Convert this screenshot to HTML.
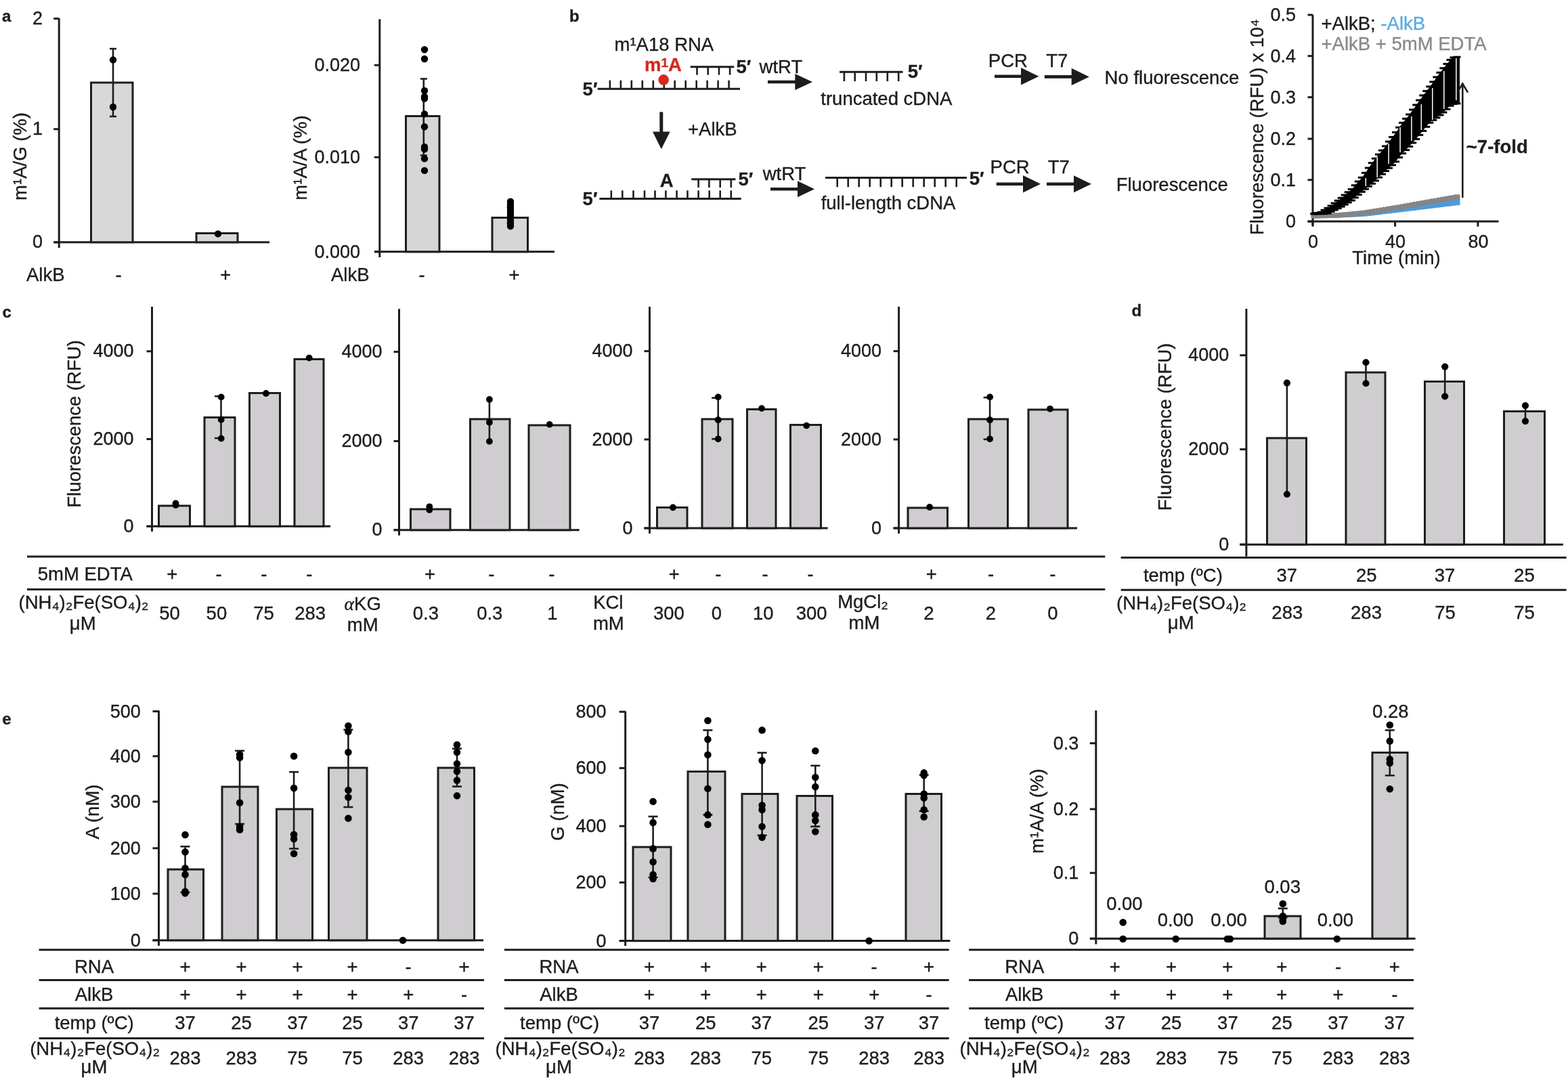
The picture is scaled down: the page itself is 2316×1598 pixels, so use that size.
<!DOCTYPE html>
<html><head><meta charset="utf-8"><title>Figure</title>
<style>
html,body{margin:0;padding:0;background:#fff;}
body{width:2316px;height:1598px;overflow:hidden;}
svg{display:block;}
</style></head>
<body>
<svg width="2316" height="1598" viewBox="0 0 2316 1598">
<rect width="2316" height="1598" fill="#fff"/>
<g font-family="'Liberation Sans', Arial, sans-serif" font-size="27.5" fill="#1d1d1d">
<text x="3" y="32" font-size="24" font-weight="bold" stroke="#1d1d1d" stroke-width="0.35">a</text>
<line x1="87.2" y1="27" x2="87.2" y2="366" stroke="#1d1d1d" stroke-width="3" stroke-linecap="butt"/>
<line x1="79.2" y1="27.5" x2="87.2" y2="27.5" stroke="#1d1d1d" stroke-width="3" stroke-linecap="butt"/>
<text x="63" y="35.5" text-anchor="end" font-size="27" stroke="#1d1d1d" stroke-width="0.35">2</text>
<line x1="79.2" y1="190.7" x2="87.2" y2="190.7" stroke="#1d1d1d" stroke-width="3" stroke-linecap="butt"/>
<text x="63" y="198.7" text-anchor="end" font-size="27" stroke="#1d1d1d" stroke-width="0.35">1</text>
<line x1="79.2" y1="357.8" x2="87.2" y2="357.8" stroke="#1d1d1d" stroke-width="3" stroke-linecap="butt"/>
<text x="63" y="365.8" text-anchor="end" font-size="27" stroke="#1d1d1d" stroke-width="0.35">0</text>
<line x1="79.5" y1="357.8" x2="398" y2="357.8" stroke="#1d1d1d" stroke-width="3" stroke-linecap="butt"/>
<rect x="134.5" y="122" width="61.5" height="235.8" fill="#d8d8d8" stroke="#1d1d1d" stroke-width="3"/>
<rect x="290" y="344.5" width="61" height="13.3" fill="#d8d8d8" stroke="#1d1d1d" stroke-width="3"/>
<line x1="167" y1="72" x2="167" y2="172" stroke="#1d1d1d" stroke-width="2.6" stroke-linecap="butt"/>
<line x1="162" y1="72" x2="172" y2="72" stroke="#1d1d1d" stroke-width="2.6" stroke-linecap="butt"/>
<line x1="162" y1="172" x2="172" y2="172" stroke="#1d1d1d" stroke-width="2.6" stroke-linecap="butt"/>
<circle cx="167" cy="88.4" r="5.2" fill="#000"/>
<circle cx="167" cy="158" r="5.2" fill="#000"/>
<circle cx="322" cy="345.4" r="5.2" fill="#000"/>
<text x="39" y="231" text-anchor="middle" stroke="#1d1d1d" stroke-width="0.35" transform="rotate(-90 39 231)">m¹A/G (%)</text>
<text x="39" y="415" stroke="#1d1d1d" stroke-width="0.35">AlkB</text>
<text x="175" y="415" text-anchor="middle" stroke="#1d1d1d" stroke-width="0.35">-</text>
<text x="333" y="415" text-anchor="middle" stroke="#1d1d1d" stroke-width="0.35">+</text>
<line x1="560.8" y1="28.3" x2="560.8" y2="380" stroke="#1d1d1d" stroke-width="3" stroke-linecap="butt"/>
<line x1="552.8" y1="96.2" x2="560.8" y2="96.2" stroke="#1d1d1d" stroke-width="3" stroke-linecap="butt"/>
<text x="532" y="105.2" text-anchor="end" font-size="27" stroke="#1d1d1d" stroke-width="0.35">0.020</text>
<line x1="552.8" y1="232.2" x2="560.8" y2="232.2" stroke="#1d1d1d" stroke-width="3" stroke-linecap="butt"/>
<text x="532" y="241.2" text-anchor="end" font-size="27" stroke="#1d1d1d" stroke-width="0.35">0.010</text>
<line x1="552.8" y1="371.8" x2="560.8" y2="371.8" stroke="#1d1d1d" stroke-width="3" stroke-linecap="butt"/>
<text x="532" y="380.8" text-anchor="end" font-size="27" stroke="#1d1d1d" stroke-width="0.35">0.000</text>
<line x1="553" y1="371.8" x2="819" y2="371.8" stroke="#1d1d1d" stroke-width="3" stroke-linecap="butt"/>
<rect x="599.5" y="171.5" width="49.5" height="200.3" fill="#d6d6d6" stroke="#1d1d1d" stroke-width="3"/>
<rect x="727" y="321.5" width="52.5" height="50.3" fill="#d6d6d6" stroke="#1d1d1d" stroke-width="3"/>
<line x1="625.8" y1="116.4" x2="625.8" y2="229.5" stroke="#1d1d1d" stroke-width="2.6" stroke-linecap="butt"/>
<line x1="620.8" y1="116.4" x2="630.8" y2="116.4" stroke="#1d1d1d" stroke-width="2.6" stroke-linecap="butt"/>
<line x1="620.8" y1="229.5" x2="630.8" y2="229.5" stroke="#1d1d1d" stroke-width="2.6" stroke-linecap="butt"/>
<circle cx="627" cy="73.3" r="5.2" fill="#000"/>
<circle cx="627" cy="87" r="5.2" fill="#000"/>
<circle cx="627" cy="133.9" r="5.2" fill="#000"/>
<circle cx="627" cy="142.8" r="5.2" fill="#000"/>
<circle cx="627" cy="145.5" r="5.2" fill="#000"/>
<circle cx="627" cy="168.4" r="5.2" fill="#000"/>
<circle cx="627" cy="187.2" r="5.2" fill="#000"/>
<circle cx="627" cy="216.9" r="5.2" fill="#000"/>
<circle cx="627" cy="220.4" r="5.2" fill="#000"/>
<circle cx="627" cy="234.4" r="5.2" fill="#000"/>
<circle cx="627" cy="251.9" r="5.2" fill="#000"/>
<line x1="753.7" y1="307" x2="753.7" y2="330" stroke="#1d1d1d" stroke-width="2.6" stroke-linecap="butt"/>
<line x1="748.7" y1="307" x2="758.7" y2="307" stroke="#1d1d1d" stroke-width="2.6" stroke-linecap="butt"/>
<line x1="748.7" y1="330" x2="758.7" y2="330" stroke="#1d1d1d" stroke-width="2.6" stroke-linecap="butt"/>
<circle cx="754" cy="297.7" r="5.2" fill="#000"/>
<circle cx="754" cy="302" r="5.2" fill="#000"/>
<circle cx="754" cy="306" r="5.2" fill="#000"/>
<circle cx="754" cy="310" r="5.2" fill="#000"/>
<circle cx="754" cy="314" r="5.2" fill="#000"/>
<circle cx="754" cy="318" r="5.2" fill="#000"/>
<circle cx="754" cy="322" r="5.2" fill="#000"/>
<circle cx="754" cy="326" r="5.2" fill="#000"/>
<circle cx="754" cy="330" r="5.2" fill="#000"/>
<circle cx="754" cy="334" r="5.2" fill="#000"/>
<text x="453" y="233" text-anchor="middle" stroke="#1d1d1d" stroke-width="0.35" transform="rotate(-90 453 233)">m¹A/A (%)</text>
<text x="489" y="415" stroke="#1d1d1d" stroke-width="0.35">AlkB</text>
<text x="623" y="415" text-anchor="middle" stroke="#1d1d1d" stroke-width="0.35">-</text>
<text x="759.6" y="415" text-anchor="middle" stroke="#1d1d1d" stroke-width="0.35">+</text>
<text x="841" y="32" font-size="24" font-weight="bold" stroke="#1d1d1d" stroke-width="0.35">b</text>
<text x="907.5" y="74.6" stroke="#1d1d1d" stroke-width="0.35">m¹A18 RNA</text>
<text x="952" y="105.2" font-weight="bold" fill="#d42a20" stroke="#d42a20" stroke-width="0.35">m<tspan font-size="19" dy="-6">1</tspan><tspan dy="6">A</tspan></text>
<line x1="1019.8" y1="98.8" x2="1084.3" y2="98.8" stroke="#1d1d1d" stroke-width="3" stroke-linecap="butt"/>
<line x1="1029.5" y1="98.8" x2="1029.5" y2="110.6" stroke="#1d1d1d" stroke-width="2.6" stroke-linecap="butt"/>
<line x1="1045.7" y1="98.8" x2="1045.7" y2="110.6" stroke="#1d1d1d" stroke-width="2.6" stroke-linecap="butt"/>
<line x1="1062" y1="98.8" x2="1062" y2="110.6" stroke="#1d1d1d" stroke-width="2.6" stroke-linecap="butt"/>
<line x1="1078.1" y1="98.8" x2="1078.1" y2="110.6" stroke="#1d1d1d" stroke-width="2.6" stroke-linecap="butt"/>
<line x1="882.7" y1="131.2" x2="1093" y2="131.2" stroke="#1d1d1d" stroke-width="3" stroke-linecap="butt"/>
<line x1="900.9" y1="131.2" x2="900.9" y2="118.7" stroke="#1d1d1d" stroke-width="2.6" stroke-linecap="butt"/>
<line x1="916.9" y1="131.2" x2="916.9" y2="118.7" stroke="#1d1d1d" stroke-width="2.6" stroke-linecap="butt"/>
<line x1="932.8" y1="131.2" x2="932.8" y2="118.7" stroke="#1d1d1d" stroke-width="2.6" stroke-linecap="butt"/>
<line x1="948.8" y1="131.2" x2="948.8" y2="118.7" stroke="#1d1d1d" stroke-width="2.6" stroke-linecap="butt"/>
<line x1="964.8" y1="131.2" x2="964.8" y2="118.7" stroke="#1d1d1d" stroke-width="2.6" stroke-linecap="butt"/>
<line x1="980.8" y1="131.2" x2="980.8" y2="118.7" stroke="#1d1d1d" stroke-width="2.6" stroke-linecap="butt"/>
<line x1="996.7" y1="131.2" x2="996.7" y2="118.7" stroke="#1d1d1d" stroke-width="2.6" stroke-linecap="butt"/>
<line x1="1012.7" y1="131.2" x2="1012.7" y2="118.7" stroke="#1d1d1d" stroke-width="2.6" stroke-linecap="butt"/>
<line x1="1028.7" y1="131.2" x2="1028.7" y2="118.7" stroke="#1d1d1d" stroke-width="2.6" stroke-linecap="butt"/>
<line x1="1044.6" y1="131.2" x2="1044.6" y2="118.7" stroke="#1d1d1d" stroke-width="2.6" stroke-linecap="butt"/>
<line x1="1060.6" y1="131.2" x2="1060.6" y2="118.7" stroke="#1d1d1d" stroke-width="2.6" stroke-linecap="butt"/>
<line x1="1076.6" y1="131.2" x2="1076.6" y2="118.7" stroke="#1d1d1d" stroke-width="2.6" stroke-linecap="butt"/>
<circle cx="980.2" cy="117.9" r="7.8" fill="#d42a20"/>
<text x="1087.4" y="107.5" font-weight="bold" stroke="#1d1d1d" stroke-width="0.35">5′</text>
<text x="860.6" y="140.6" font-weight="bold" stroke="#1d1d1d" stroke-width="0.35">5′</text>
<text x="1121.6" y="107.5" stroke="#1d1d1d" stroke-width="0.35">wtRT</text>
<line x1="1134" y1="121" x2="1176.3" y2="121" stroke="#1d1d1d" stroke-width="4.6" stroke-linecap="butt"/>
<polygon points="1174.3,109 1200,121 1174.3,133" fill="#1d1d1d"/>
<line x1="976.8" y1="165.4" x2="976.8" y2="196" stroke="#1d1d1d" stroke-width="5" stroke-linecap="butt"/>
<polygon points="964,194.4 989.6,194.4 976.8,220.2" fill="#1d1d1d"/>
<text x="1016" y="199.5" stroke="#1d1d1d" stroke-width="0.35">+AlkB</text>
<text x="974.7" y="276" font-weight="bold" stroke="#1d1d1d" stroke-width="0.35">A</text>
<line x1="1021.3" y1="264.7" x2="1086.4" y2="264.7" stroke="#1d1d1d" stroke-width="3" stroke-linecap="butt"/>
<line x1="1031.6" y1="264.7" x2="1031.6" y2="277" stroke="#1d1d1d" stroke-width="2.6" stroke-linecap="butt"/>
<line x1="1047.4" y1="264.7" x2="1047.4" y2="277" stroke="#1d1d1d" stroke-width="2.6" stroke-linecap="butt"/>
<line x1="1063.7" y1="264.7" x2="1063.7" y2="277" stroke="#1d1d1d" stroke-width="2.6" stroke-linecap="butt"/>
<line x1="1079.8" y1="264.7" x2="1079.8" y2="277" stroke="#1d1d1d" stroke-width="2.6" stroke-linecap="butt"/>
<line x1="885.4" y1="293.6" x2="1094.7" y2="293.6" stroke="#1d1d1d" stroke-width="3" stroke-linecap="butt"/>
<line x1="902.8" y1="293.6" x2="902.8" y2="281.3" stroke="#1d1d1d" stroke-width="2.6" stroke-linecap="butt"/>
<line x1="919.3" y1="293.6" x2="919.3" y2="281.3" stroke="#1d1d1d" stroke-width="2.6" stroke-linecap="butt"/>
<line x1="935.5" y1="293.6" x2="935.5" y2="281.3" stroke="#1d1d1d" stroke-width="2.6" stroke-linecap="butt"/>
<line x1="952" y1="293.6" x2="952" y2="281.3" stroke="#1d1d1d" stroke-width="2.6" stroke-linecap="butt"/>
<line x1="967.5" y1="293.6" x2="967.5" y2="281.3" stroke="#1d1d1d" stroke-width="2.6" stroke-linecap="butt"/>
<line x1="983.4" y1="293.6" x2="983.4" y2="281.3" stroke="#1d1d1d" stroke-width="2.6" stroke-linecap="butt"/>
<line x1="999.6" y1="293.6" x2="999.6" y2="281.3" stroke="#1d1d1d" stroke-width="2.6" stroke-linecap="butt"/>
<line x1="1015.5" y1="293.6" x2="1015.5" y2="281.3" stroke="#1d1d1d" stroke-width="2.6" stroke-linecap="butt"/>
<line x1="1031.6" y1="293.6" x2="1031.6" y2="281.3" stroke="#1d1d1d" stroke-width="2.6" stroke-linecap="butt"/>
<line x1="1047.7" y1="293.6" x2="1047.7" y2="281.3" stroke="#1d1d1d" stroke-width="2.6" stroke-linecap="butt"/>
<line x1="1063.7" y1="293.6" x2="1063.7" y2="281.3" stroke="#1d1d1d" stroke-width="2.6" stroke-linecap="butt"/>
<line x1="1079.8" y1="293.6" x2="1079.8" y2="281.3" stroke="#1d1d1d" stroke-width="2.6" stroke-linecap="butt"/>
<text x="1090.5" y="274" font-weight="bold" stroke="#1d1d1d" stroke-width="0.35">5′</text>
<text x="860.6" y="303" font-weight="bold" stroke="#1d1d1d" stroke-width="0.35">5′</text>
<text x="1126.7" y="265.7" stroke="#1d1d1d" stroke-width="0.35">wtRT</text>
<line x1="1138" y1="279.2" x2="1180" y2="279.2" stroke="#1d1d1d" stroke-width="4.6" stroke-linecap="butt"/>
<polygon points="1178,267.2 1203,279.2 1178,291.2" fill="#1d1d1d"/>
<line x1="1240" y1="106.3" x2="1333.6" y2="106.3" stroke="#1d1d1d" stroke-width="3" stroke-linecap="butt"/>
<line x1="1246.9" y1="106.3" x2="1246.9" y2="120" stroke="#1d1d1d" stroke-width="2.6" stroke-linecap="butt"/>
<line x1="1262.7" y1="106.3" x2="1262.7" y2="120" stroke="#1d1d1d" stroke-width="2.6" stroke-linecap="butt"/>
<line x1="1279" y1="106.3" x2="1279" y2="120" stroke="#1d1d1d" stroke-width="2.6" stroke-linecap="butt"/>
<line x1="1294.8" y1="106.3" x2="1294.8" y2="120" stroke="#1d1d1d" stroke-width="2.6" stroke-linecap="butt"/>
<line x1="1310.8" y1="106.3" x2="1310.8" y2="120" stroke="#1d1d1d" stroke-width="2.6" stroke-linecap="butt"/>
<line x1="1327.2" y1="106.3" x2="1327.2" y2="120" stroke="#1d1d1d" stroke-width="2.6" stroke-linecap="butt"/>
<text x="1340.8" y="114.9" font-weight="bold" stroke="#1d1d1d" stroke-width="0.35">5′</text>
<text x="1212.3" y="154.5" stroke="#1d1d1d" stroke-width="0.35">truncated cDNA</text>
<line x1="1219" y1="262.6" x2="1428" y2="262.6" stroke="#1d1d1d" stroke-width="3" stroke-linecap="butt"/>
<line x1="1236.7" y1="262.6" x2="1236.7" y2="276.2" stroke="#1d1d1d" stroke-width="2.6" stroke-linecap="butt"/>
<line x1="1252.7" y1="262.6" x2="1252.7" y2="276.2" stroke="#1d1d1d" stroke-width="2.6" stroke-linecap="butt"/>
<line x1="1268.7" y1="262.6" x2="1268.7" y2="276.2" stroke="#1d1d1d" stroke-width="2.6" stroke-linecap="butt"/>
<line x1="1284.7" y1="262.6" x2="1284.7" y2="276.2" stroke="#1d1d1d" stroke-width="2.6" stroke-linecap="butt"/>
<line x1="1300.7" y1="262.6" x2="1300.7" y2="276.2" stroke="#1d1d1d" stroke-width="2.6" stroke-linecap="butt"/>
<line x1="1316.7" y1="262.6" x2="1316.7" y2="276.2" stroke="#1d1d1d" stroke-width="2.6" stroke-linecap="butt"/>
<line x1="1332.7" y1="262.6" x2="1332.7" y2="276.2" stroke="#1d1d1d" stroke-width="2.6" stroke-linecap="butt"/>
<line x1="1348.7" y1="262.6" x2="1348.7" y2="276.2" stroke="#1d1d1d" stroke-width="2.6" stroke-linecap="butt"/>
<line x1="1364.7" y1="262.6" x2="1364.7" y2="276.2" stroke="#1d1d1d" stroke-width="2.6" stroke-linecap="butt"/>
<line x1="1380.7" y1="262.6" x2="1380.7" y2="276.2" stroke="#1d1d1d" stroke-width="2.6" stroke-linecap="butt"/>
<line x1="1396.7" y1="262.6" x2="1396.7" y2="276.2" stroke="#1d1d1d" stroke-width="2.6" stroke-linecap="butt"/>
<line x1="1412.7" y1="262.6" x2="1412.7" y2="276.2" stroke="#1d1d1d" stroke-width="2.6" stroke-linecap="butt"/>
<text x="1431.7" y="272.6" font-weight="bold" stroke="#1d1d1d" stroke-width="0.35">5′</text>
<text x="1212.7" y="309" stroke="#1d1d1d" stroke-width="0.35">full-length cDNA</text>
<text x="1459.8" y="99" stroke="#1d1d1d" stroke-width="0.35">PCR</text>
<line x1="1469" y1="112.7" x2="1510" y2="112.7" stroke="#1d1d1d" stroke-width="4.6" stroke-linecap="butt"/>
<polygon points="1508,100 1534.4,112.7 1508,125.4" fill="#1d1d1d"/>
<text x="1462.6" y="256.2" stroke="#1d1d1d" stroke-width="0.35">PCR</text>
<line x1="1471.7" y1="271.7" x2="1513" y2="271.7" stroke="#1d1d1d" stroke-width="4.6" stroke-linecap="butt"/>
<polygon points="1511,259 1537,271.7 1511,284.4" fill="#1d1d1d"/>
<text x="1545.3" y="99.1" stroke="#1d1d1d" stroke-width="0.35">T7</text>
<line x1="1542.8" y1="113.4" x2="1584.7" y2="113.4" stroke="#1d1d1d" stroke-width="4.6" stroke-linecap="butt"/>
<polygon points="1582.7,100.7 1608.8,113.4 1582.7,126.1" fill="#1d1d1d"/>
<text x="1547.7" y="256.3" stroke="#1d1d1d" stroke-width="0.35">T7</text>
<line x1="1546" y1="271.8" x2="1588" y2="271.8" stroke="#1d1d1d" stroke-width="4.6" stroke-linecap="butt"/>
<polygon points="1586,259.3 1612,271.8 1586,284.3" fill="#1d1d1d"/>
<text x="1631.6" y="124.4" stroke="#1d1d1d" stroke-width="0.35">No fluorescence</text>
<text x="1648.7" y="282.4" stroke="#1d1d1d" stroke-width="0.35">Fluorescence</text>
<line x1="1939" y1="22" x2="1939" y2="333" stroke="#1d1d1d" stroke-width="3" stroke-linecap="butt"/>
<line x1="1931.5" y1="22" x2="1939" y2="22" stroke="#1d1d1d" stroke-width="3" stroke-linecap="butt"/>
<text x="1914" y="31" text-anchor="end" font-size="27" stroke="#1d1d1d" stroke-width="0.35">0.5</text>
<line x1="1931.5" y1="82.7" x2="1939" y2="82.7" stroke="#1d1d1d" stroke-width="3" stroke-linecap="butt"/>
<text x="1914" y="91.7" text-anchor="end" font-size="27" stroke="#1d1d1d" stroke-width="0.35">0.4</text>
<line x1="1931.5" y1="143.6" x2="1939" y2="143.6" stroke="#1d1d1d" stroke-width="3" stroke-linecap="butt"/>
<text x="1914" y="152.6" text-anchor="end" font-size="27" stroke="#1d1d1d" stroke-width="0.35">0.3</text>
<line x1="1931.5" y1="205" x2="1939" y2="205" stroke="#1d1d1d" stroke-width="3" stroke-linecap="butt"/>
<text x="1914" y="214" text-anchor="end" font-size="27" stroke="#1d1d1d" stroke-width="0.35">0.2</text>
<line x1="1931.5" y1="265.7" x2="1939" y2="265.7" stroke="#1d1d1d" stroke-width="3" stroke-linecap="butt"/>
<text x="1914" y="274.7" text-anchor="end" font-size="27" stroke="#1d1d1d" stroke-width="0.35">0.1</text>
<line x1="1931.5" y1="327" x2="1939" y2="327" stroke="#1d1d1d" stroke-width="3" stroke-linecap="butt"/>
<text x="1914" y="336" text-anchor="end" font-size="27" stroke="#1d1d1d" stroke-width="0.35">0</text>
<line x1="1931.5" y1="327" x2="2213.5" y2="327" stroke="#1d1d1d" stroke-width="3" stroke-linecap="butt"/>
<line x1="1939" y1="327" x2="1939" y2="334.6" stroke="#1d1d1d" stroke-width="3" stroke-linecap="butt"/>
<text x="1939.5" y="366" text-anchor="middle" font-size="27" stroke="#1d1d1d" stroke-width="0.35">0</text>
<line x1="2060.6" y1="327" x2="2060.6" y2="334.6" stroke="#1d1d1d" stroke-width="3" stroke-linecap="butt"/>
<text x="2061.1" y="366" text-anchor="middle" font-size="27" stroke="#1d1d1d" stroke-width="0.35">40</text>
<line x1="2182.9" y1="327" x2="2182.9" y2="334.6" stroke="#1d1d1d" stroke-width="3" stroke-linecap="butt"/>
<text x="2183.4" y="366" text-anchor="middle" font-size="27" stroke="#1d1d1d" stroke-width="0.35">80</text>
<text x="2062.5" y="389.7" text-anchor="middle" stroke="#1d1d1d" stroke-width="0.35">Time (min)</text>
<text x="1866.3" y="187.6" text-anchor="middle" stroke="#1d1d1d" stroke-width="0.35" transform="rotate(-90 1866.3 187.6)">Fluorescence (RFU) x 10⁴</text>
<rect x="1961.6" y="317.3" width="9" height="4.4" fill="#4f9ad8"/>
<rect x="1966.6" y="317.1" width="9" height="4.4" fill="#4f9ad8"/>
<rect x="1971.7" y="316.9" width="9" height="4.5" fill="#4f9ad8"/>
<rect x="1976.7" y="316.6" width="9" height="4.6" fill="#4f9ad8"/>
<rect x="1981.7" y="316.3" width="9" height="4.7" fill="#4f9ad8"/>
<rect x="1986.7" y="316" width="9" height="4.8" fill="#4f9ad8"/>
<rect x="1991.8" y="315.7" width="9" height="4.9" fill="#4f9ad8"/>
<rect x="1996.8" y="315.3" width="9" height="5" fill="#4f9ad8"/>
<rect x="2001.8" y="315" width="9" height="5.1" fill="#4f9ad8"/>
<rect x="2006.8" y="314.7" width="9" height="5.1" fill="#4f9ad8"/>
<rect x="2011.9" y="314.2" width="9" height="5.2" fill="#4f9ad8"/>
<rect x="2016.9" y="313.5" width="9" height="5.4" fill="#4f9ad8"/>
<rect x="2021.9" y="312.8" width="9" height="5.5" fill="#4f9ad8"/>
<rect x="2026.9" y="312" width="9" height="5.6" fill="#4f9ad8"/>
<rect x="2032" y="311.3" width="9" height="5.8" fill="#4f9ad8"/>
<rect x="2037" y="310.5" width="9" height="5.9" fill="#4f9ad8"/>
<rect x="2042" y="309.8" width="9" height="6" fill="#4f9ad8"/>
<rect x="2047" y="309.1" width="9" height="6.2" fill="#4f9ad8"/>
<rect x="2052" y="308.3" width="9" height="6.3" fill="#4f9ad8"/>
<rect x="2057.1" y="307.6" width="9" height="6.4" fill="#4f9ad8"/>
<rect x="2062.1" y="306.8" width="9" height="6.6" fill="#4f9ad8"/>
<rect x="2067.1" y="305.9" width="9" height="6.9" fill="#4f9ad8"/>
<rect x="2072.1" y="305" width="9" height="7.2" fill="#4f9ad8"/>
<rect x="2077.2" y="304.1" width="9" height="7.4" fill="#4f9ad8"/>
<rect x="2082.2" y="303.3" width="9" height="7.7" fill="#4f9ad8"/>
<rect x="2087.2" y="302.4" width="9" height="8" fill="#4f9ad8"/>
<rect x="2092.2" y="301.5" width="9" height="8.2" fill="#4f9ad8"/>
<rect x="2097.3" y="300.6" width="9" height="8.5" fill="#4f9ad8"/>
<rect x="2102.3" y="299.7" width="9" height="8.8" fill="#4f9ad8"/>
<rect x="2107.3" y="298.8" width="9" height="9.1" fill="#4f9ad8"/>
<rect x="2112.3" y="298" width="9" height="9.3" fill="#4f9ad8"/>
<rect x="2117.4" y="297.1" width="9" height="9.6" fill="#4f9ad8"/>
<rect x="2122.4" y="296.2" width="9" height="9.9" fill="#4f9ad8"/>
<rect x="2127.4" y="295.3" width="9" height="10.1" fill="#4f9ad8"/>
<rect x="2132.4" y="294.4" width="9" height="10.4" fill="#4f9ad8"/>
<rect x="2137.5" y="293.6" width="9" height="10.7" fill="#4f9ad8"/>
<rect x="2142.5" y="292.7" width="9" height="10.9" fill="#4f9ad8"/>
<rect x="2147.5" y="291.8" width="9" height="11.2" fill="#4f9ad8"/>
<rect x="1936.5" y="315.2" width="9" height="7.3" fill="#858585"/>
<rect x="1941.5" y="315.1" width="9" height="7.3" fill="#858585"/>
<rect x="1946.5" y="315" width="9" height="7.3" fill="#858585"/>
<rect x="1951.6" y="314.9" width="9" height="7.3" fill="#858585"/>
<rect x="1956.6" y="314.8" width="9" height="7.3" fill="#858585"/>
<rect x="1961.6" y="314.7" width="9" height="7.3" fill="#858585"/>
<rect x="1966.6" y="314.6" width="9" height="7.3" fill="#858585"/>
<rect x="1971.7" y="314.4" width="9" height="7.3" fill="#858585"/>
<rect x="1976.7" y="313.9" width="9" height="7.3" fill="#858585"/>
<rect x="1981.7" y="313.4" width="9" height="7.3" fill="#858585"/>
<rect x="1986.7" y="313" width="9" height="7.3" fill="#858585"/>
<rect x="1991.8" y="312.5" width="9" height="7.3" fill="#858585"/>
<rect x="1996.8" y="312" width="9" height="7.3" fill="#858585"/>
<rect x="2001.8" y="311.6" width="9" height="7.3" fill="#858585"/>
<rect x="2006.8" y="311.1" width="9" height="7.3" fill="#858585"/>
<rect x="2011.9" y="310.5" width="9" height="7.3" fill="#858585"/>
<rect x="2016.9" y="309.7" width="9" height="7.3" fill="#858585"/>
<rect x="2021.9" y="308.9" width="9" height="7.3" fill="#858585"/>
<rect x="2026.9" y="308.1" width="9" height="7.3" fill="#858585"/>
<rect x="2032" y="307.3" width="9" height="7.3" fill="#858585"/>
<rect x="2037" y="306.5" width="9" height="7.3" fill="#858585"/>
<rect x="2042" y="305.6" width="9" height="7.3" fill="#858585"/>
<rect x="2047" y="304.8" width="9" height="7.3" fill="#858585"/>
<rect x="2052" y="304" width="9" height="7.3" fill="#858585"/>
<rect x="2057.1" y="303.2" width="9" height="7.3" fill="#858585"/>
<rect x="2062.1" y="302.4" width="9" height="7.3" fill="#858585"/>
<rect x="2067.1" y="301.5" width="9" height="7.3" fill="#858585"/>
<rect x="2072.1" y="300.6" width="9" height="7.3" fill="#858585"/>
<rect x="2077.2" y="299.7" width="9" height="7.3" fill="#858585"/>
<rect x="2082.2" y="298.8" width="9" height="7.3" fill="#858585"/>
<rect x="2087.2" y="297.9" width="9" height="7.3" fill="#858585"/>
<rect x="2092.2" y="297" width="9" height="7.3" fill="#858585"/>
<rect x="2097.3" y="296.1" width="9" height="7.3" fill="#858585"/>
<rect x="2102.3" y="295.2" width="9" height="7.3" fill="#858585"/>
<rect x="2107.3" y="294.3" width="9" height="7.3" fill="#858585"/>
<rect x="2112.3" y="293.4" width="9" height="7.3" fill="#858585"/>
<rect x="2117.4" y="292.6" width="9" height="7.3" fill="#858585"/>
<rect x="2122.4" y="291.7" width="9" height="7.3" fill="#858585"/>
<rect x="2127.4" y="290.8" width="9" height="7.3" fill="#858585"/>
<rect x="2132.4" y="289.9" width="9" height="7.3" fill="#858585"/>
<rect x="2137.5" y="289" width="9" height="7.3" fill="#858585"/>
<rect x="2142.5" y="288.1" width="9" height="7.3" fill="#858585"/>
<rect x="2147.5" y="287.2" width="9" height="7.3" fill="#858585"/>
<polygon points="1940,316 1942,315.7 1944,315.4 1946,315.1 1948,314.8 1950,314.5 1952,313.3 1954,312.1 1956,310.9 1958,309.6 1960,308.4 1962,307.2 1964,306 1966,304.6 1968,303.1 1970,301.5 1972,300 1974,298.4 1976,296.9 1978,295.3 1980,293.8 1982,292.1 1984,290.4 1986,288.7 1988,287 1990,285.3 1992,283.6 1994,281.9 1996,280.3 1998,278 2000,275.7 2002,273.4 2004,271.1 2006,268.8 2008,266.5 2010,264.2 2012,261.9 2014,259.2 2016,256.3 2018,253.4 2020,250.5 2022,247.6 2024,244.7 2026,241.8 2028,238.9 2030,236.3 2032,233.9 2034,231.5 2036,229.1 2038,226.7 2040,224.3 2042,221.9 2044,219.5 2046,217 2048,214.3 2050,211.7 2052,209 2054,206.3 2056,203.6 2058,200.9 2060,198.2 2062,195.3 2064,192.4 2066,189.6 2068,186.7 2070,183.8 2072,181.4 2074,179 2076,176.6 2078,174.1 2080,171.7 2082,169.1 2084,166.3 2086,163.5 2088,160.7 2090,157.9 2092,155.1 2094,152.3 2096,149.5 2098,146.7 2100,143.9 2102,141.1 2104,138.5 2106,135.9 2108,133.3 2110,130.8 2112,128.2 2114,125.4 2116,122.6 2118,119.8 2120,117 2122,114.2 2124,111.5 2126,108.9 2128,106.3 2130,103.7 2132,101.1 2134,98.5 2136,96.1 2138,93.6 2140,91.2 2142,88.8 2144,86.4 2146,85.6 2148,85.3 2150,85 2152,84.7 2154,84.4 2156,84.2 2156,152.1 2154,152.2 2152,152.4 2150,152.6 2148,152.8 2146,153 2144,153.7 2142,155.7 2140,157.7 2138,159.7 2136,161.7 2134,163.7 2132,165.3 2130,166.9 2128,168.5 2126,170.1 2124,171.8 2122,173.2 2120,174.6 2118,176 2116,177.4 2114,178.8 2112,180.5 2110,182.9 2108,185.3 2106,187.7 2104,190.1 2102,192.5 2100,194.9 2098,197.3 2096,199.7 2094,202.1 2092,204.6 2090,206.8 2088,209 2086,211.2 2084,213.4 2082,215.6 2080,217.7 2078,219.7 2076,221.7 2074,223.7 2072,225.7 2070,227.7 2068,230.2 2066,232.7 2064,235.2 2062,237.7 2060,240.2 2058,242.1 2056,243.8 2054,245.5 2052,247.3 2050,249 2048,250.8 2046,252.5 2044,254.3 2042,256.2 2040,258.1 2038,260 2036,261.9 2034,263.9 2032,265.8 2030,267.7 2028,269.4 2026,271 2024,272.6 2022,274.2 2020,275.8 2018,277.4 2016,279 2014,280.6 2012,282.2 2010,283.9 2008,285.6 2006,287.3 2004,289 2002,290.7 2000,292.4 1998,294.1 1996,295.7 1994,296.9 1992,298.1 1990,299.3 1988,300.5 1986,301.7 1984,302.9 1982,304.1 1980,305.3 1978,306.3 1976,307.2 1974,308.2 1972,309.2 1970,310.1 1968,311.1 1966,312.1 1964,313.1 1962,314 1960,315 1958,315.1 1956,315.1 1954,315.1 1952,315.2 1950,315.5 1948,315.8 1946,316.1 1944,316.4 1942,316.7 1940,317" fill="#000"/>
<rect x="1935.5" y="313.9" width="11" height="3" fill="#000"/>
<rect x="1935.5" y="314.5" width="11" height="3" fill="#000"/>
<rect x="1940.5" y="313.1" width="11" height="3" fill="#000"/>
<rect x="1940.5" y="314.3" width="11" height="3" fill="#000"/>
<rect x="1945.5" y="311.9" width="11" height="3" fill="#000"/>
<rect x="1945.5" y="314.2" width="11" height="3" fill="#000"/>
<rect x="1950.6" y="308.8" width="11" height="3" fill="#000"/>
<rect x="1950.6" y="314.1" width="11" height="3" fill="#000"/>
<rect x="1955.6" y="305.8" width="11" height="3" fill="#000"/>
<rect x="1955.6" y="313.5" width="11" height="3" fill="#000"/>
<rect x="1960.6" y="302.5" width="11" height="3" fill="#000"/>
<rect x="1960.6" y="311" width="11" height="3" fill="#000"/>
<rect x="1965.6" y="298.6" width="11" height="3" fill="#000"/>
<rect x="1965.6" y="308.6" width="11" height="3" fill="#000"/>
<rect x="1970.7" y="294.8" width="11" height="3" fill="#000"/>
<rect x="1970.7" y="306.2" width="11" height="3" fill="#000"/>
<rect x="1975.7" y="290.8" width="11" height="3" fill="#000"/>
<rect x="1975.7" y="303.6" width="11" height="3" fill="#000"/>
<rect x="1980.7" y="286.5" width="11" height="3" fill="#000"/>
<rect x="1980.7" y="300.6" width="11" height="3" fill="#000"/>
<rect x="1985.7" y="282.3" width="11" height="3" fill="#000"/>
<rect x="1985.7" y="297.5" width="11" height="3" fill="#000"/>
<rect x="1990.8" y="278" width="11" height="3" fill="#000"/>
<rect x="1990.8" y="294.5" width="11" height="3" fill="#000"/>
<rect x="1995.8" y="272.2" width="11" height="3" fill="#000"/>
<rect x="1995.8" y="290.3" width="11" height="3" fill="#000"/>
<rect x="2000.8" y="266.5" width="11" height="3" fill="#000"/>
<rect x="2000.8" y="286" width="11" height="3" fill="#000"/>
<rect x="2005.8" y="260.7" width="11" height="3" fill="#000"/>
<rect x="2005.8" y="281.8" width="11" height="3" fill="#000"/>
<rect x="2010.9" y="253.8" width="11" height="3" fill="#000"/>
<rect x="2010.9" y="277.7" width="11" height="3" fill="#000"/>
<rect x="2015.9" y="246.5" width="11" height="3" fill="#000"/>
<rect x="2015.9" y="273.7" width="11" height="3" fill="#000"/>
<rect x="2020.9" y="239.2" width="11" height="3" fill="#000"/>
<rect x="2020.9" y="269.7" width="11" height="3" fill="#000"/>
<rect x="2025.9" y="232.6" width="11" height="3" fill="#000"/>
<rect x="2025.9" y="265.3" width="11" height="3" fill="#000"/>
<rect x="2031" y="226.6" width="11" height="3" fill="#000"/>
<rect x="2031" y="260.5" width="11" height="3" fill="#000"/>
<rect x="2036" y="220.6" width="11" height="3" fill="#000"/>
<rect x="2036" y="255.7" width="11" height="3" fill="#000"/>
<rect x="2041" y="214.4" width="11" height="3" fill="#000"/>
<rect x="2041" y="251.1" width="11" height="3" fill="#000"/>
<rect x="2046" y="207.6" width="11" height="3" fill="#000"/>
<rect x="2046" y="246.7" width="11" height="3" fill="#000"/>
<rect x="2051" y="200.9" width="11" height="3" fill="#000"/>
<rect x="2051" y="242.3" width="11" height="3" fill="#000"/>
<rect x="2056.1" y="193.9" width="11" height="3" fill="#000"/>
<rect x="2056.1" y="237.3" width="11" height="3" fill="#000"/>
<rect x="2061.1" y="186.7" width="11" height="3" fill="#000"/>
<rect x="2061.1" y="231" width="11" height="3" fill="#000"/>
<rect x="2066.1" y="179.8" width="11" height="3" fill="#000"/>
<rect x="2066.1" y="225.1" width="11" height="3" fill="#000"/>
<rect x="2071.1" y="173.8" width="11" height="3" fill="#000"/>
<rect x="2071.1" y="220.1" width="11" height="3" fill="#000"/>
<rect x="2076.2" y="167.5" width="11" height="3" fill="#000"/>
<rect x="2076.2" y="214.9" width="11" height="3" fill="#000"/>
<rect x="2081.2" y="160.5" width="11" height="3" fill="#000"/>
<rect x="2081.2" y="209.4" width="11" height="3" fill="#000"/>
<rect x="2086.2" y="153.5" width="11" height="3" fill="#000"/>
<rect x="2086.2" y="203.9" width="11" height="3" fill="#000"/>
<rect x="2091.2" y="146.5" width="11" height="3" fill="#000"/>
<rect x="2091.2" y="197.8" width="11" height="3" fill="#000"/>
<rect x="2096.3" y="139.4" width="11" height="3" fill="#000"/>
<rect x="2096.3" y="191.8" width="11" height="3" fill="#000"/>
<rect x="2101.3" y="132.9" width="11" height="3" fill="#000"/>
<rect x="2101.3" y="185.8" width="11" height="3" fill="#000"/>
<rect x="2106.3" y="126.4" width="11" height="3" fill="#000"/>
<rect x="2106.3" y="179.7" width="11" height="3" fill="#000"/>
<rect x="2111.3" y="119.4" width="11" height="3" fill="#000"/>
<rect x="2111.3" y="175.8" width="11" height="3" fill="#000"/>
<rect x="2116.4" y="112.4" width="11" height="3" fill="#000"/>
<rect x="2116.4" y="172.3" width="11" height="3" fill="#000"/>
<rect x="2121.4" y="105.7" width="11" height="3" fill="#000"/>
<rect x="2121.4" y="168.4" width="11" height="3" fill="#000"/>
<rect x="2126.4" y="99.2" width="11" height="3" fill="#000"/>
<rect x="2126.4" y="164.4" width="11" height="3" fill="#000"/>
<rect x="2131.4" y="92.9" width="11" height="3" fill="#000"/>
<rect x="2131.4" y="159.8" width="11" height="3" fill="#000"/>
<rect x="2136.5" y="86.9" width="11" height="3" fill="#000"/>
<rect x="2136.5" y="154.7" width="11" height="3" fill="#000"/>
<rect x="2141.5" y="83.4" width="11" height="3" fill="#000"/>
<rect x="2141.5" y="151.9" width="11" height="3" fill="#000"/>
<rect x="2146.5" y="82.7" width="11" height="3" fill="#000"/>
<rect x="2146.5" y="151.4" width="11" height="3" fill="#000"/>
<line x1="2017.3" y1="263" x2="2017.3" y2="275" stroke="#fff" stroke-width="1.5" stroke-linecap="butt"/>
<line x1="2034.2" y1="232" x2="2034.2" y2="262" stroke="#fff" stroke-width="1.5" stroke-linecap="butt"/>
<line x1="2051.1" y1="212" x2="2051.1" y2="242" stroke="#fff" stroke-width="1.5" stroke-linecap="butt"/>
<line x1="2068.1" y1="188" x2="2068.1" y2="225" stroke="#fff" stroke-width="1.5" stroke-linecap="butt"/>
<line x1="2084.9" y1="172" x2="2084.9" y2="208" stroke="#fff" stroke-width="1.5" stroke-linecap="butt"/>
<line x1="2099.3" y1="154" x2="2099.3" y2="192" stroke="#fff" stroke-width="1.5" stroke-linecap="butt"/>
<line x1="2115.8" y1="130" x2="2115.8" y2="177" stroke="#fff" stroke-width="1.5" stroke-linecap="butt"/>
<line x1="2132.8" y1="105" x2="2132.8" y2="161" stroke="#fff" stroke-width="1.5" stroke-linecap="butt"/>
<line x1="2150.9" y1="86" x2="2150.9" y2="148" stroke="#fff" stroke-width="1.5" stroke-linecap="butt"/>
<text x="1951.5" y="43.9" stroke="#1d1d1d" stroke-width="0.35">+AlkB; <tspan fill="#5aaee3" stroke="#5aaee3">-AlkB</tspan></text>
<text x="1951.5" y="74" fill="#8a8a8a" stroke="#8a8a8a" stroke-width="0.35">+AlkB + 5mM EDTA</text>
<line x1="2160.3" y1="292" x2="2160.3" y2="123.5" stroke="#1d1d1d" stroke-width="2.6" stroke-linecap="butt"/>
<polyline points="2153.3,135.3 2160.3,123.5 2168,136.6" fill="none" stroke="#1d1d1d" stroke-width="2.6" stroke-linejoin="miter"/>
<text x="2165.8" y="225.6" font-weight="bold" stroke="#1d1d1d" stroke-width="0.35">~7-fold</text>
<text x="3.6" y="468.6" font-size="24" font-weight="bold" stroke="#1d1d1d" stroke-width="0.35">c</text>
<line x1="224.5" y1="453.1" x2="224.5" y2="785" stroke="#1d1d1d" stroke-width="3" stroke-linecap="butt"/>
<line x1="216.5" y1="518.8" x2="224.5" y2="518.8" stroke="#1d1d1d" stroke-width="3" stroke-linecap="butt"/>
<text x="197.6" y="527.3" text-anchor="end" font-size="27" stroke="#1d1d1d" stroke-width="0.35">4000</text>
<line x1="216.5" y1="648.5" x2="224.5" y2="648.5" stroke="#1d1d1d" stroke-width="3" stroke-linecap="butt"/>
<text x="197.6" y="657" text-anchor="end" font-size="27" stroke="#1d1d1d" stroke-width="0.35">2000</text>
<line x1="216.5" y1="777.3" x2="224.5" y2="777.3" stroke="#1d1d1d" stroke-width="3" stroke-linecap="butt"/>
<text x="197.6" y="785.8" text-anchor="end" font-size="27" stroke="#1d1d1d" stroke-width="0.35">0</text>
<line x1="216.5" y1="777.3" x2="488.1" y2="777.3" stroke="#1d1d1d" stroke-width="3" stroke-linecap="butt"/>
<rect x="234.5" y="747" width="46" height="30.3" fill="#cfcdcf" stroke="#1d1d1d" stroke-width="3"/>
<rect x="302" y="616.5" width="45" height="160.8" fill="#cfcdcf" stroke="#1d1d1d" stroke-width="3"/>
<rect x="368.5" y="580.5" width="45" height="196.8" fill="#cfcdcf" stroke="#1d1d1d" stroke-width="3"/>
<rect x="435" y="530.5" width="43" height="246.8" fill="#cfcdcf" stroke="#1d1d1d" stroke-width="3"/>
<line x1="326.5" y1="585.2" x2="326.5" y2="647.1" stroke="#1d1d1d" stroke-width="2.6" stroke-linecap="butt"/>
<line x1="317" y1="585.2" x2="326.5" y2="585.2" stroke="#1d1d1d" stroke-width="2.6" stroke-linecap="butt"/>
<line x1="317" y1="647.1" x2="326.5" y2="647.1" stroke="#1d1d1d" stroke-width="2.6" stroke-linecap="butt"/>
<circle cx="259.5" cy="746" r="4.9" fill="#000"/>
<circle cx="259.5" cy="743.5" r="4.9" fill="#000"/>
<circle cx="326.7" cy="586.4" r="4.9" fill="#000"/>
<circle cx="326.7" cy="619.8" r="4.9" fill="#000"/>
<circle cx="326.7" cy="647.6" r="4.9" fill="#000"/>
<circle cx="392.9" cy="581" r="4.9" fill="#000"/>
<circle cx="456.7" cy="528.6" r="4.9" fill="#000"/>
<text x="119" y="626" text-anchor="middle" stroke="#1d1d1d" stroke-width="0.35" transform="rotate(-90 119 626)">Fluorescence (RFU)</text>
<line x1="589.5" y1="456.2" x2="589.5" y2="790.8" stroke="#1d1d1d" stroke-width="3" stroke-linecap="butt"/>
<line x1="581.5" y1="519.6" x2="589.5" y2="519.6" stroke="#1d1d1d" stroke-width="3" stroke-linecap="butt"/>
<text x="564.5" y="528.1" text-anchor="end" font-size="27" stroke="#1d1d1d" stroke-width="0.35">4000</text>
<line x1="581.5" y1="651.5" x2="589.5" y2="651.5" stroke="#1d1d1d" stroke-width="3" stroke-linecap="butt"/>
<text x="564.5" y="660" text-anchor="end" font-size="27" stroke="#1d1d1d" stroke-width="0.35">2000</text>
<line x1="581.5" y1="782.8" x2="589.5" y2="782.8" stroke="#1d1d1d" stroke-width="3" stroke-linecap="butt"/>
<text x="564.5" y="791.3" text-anchor="end" font-size="27" stroke="#1d1d1d" stroke-width="0.35">0</text>
<line x1="581.5" y1="782.8" x2="855.7" y2="782.8" stroke="#1d1d1d" stroke-width="3" stroke-linecap="butt"/>
<rect x="606.5" y="752" width="58.5" height="30.8" fill="#cfcdcf" stroke="#1d1d1d" stroke-width="3"/>
<rect x="694.5" y="619" width="58.5" height="163.8" fill="#cfcdcf" stroke="#1d1d1d" stroke-width="3"/>
<rect x="781" y="628" width="61" height="154.8" fill="#cfcdcf" stroke="#1d1d1d" stroke-width="3"/>
<line x1="722.9" y1="590" x2="722.9" y2="651.9" stroke="#1d1d1d" stroke-width="2.6" stroke-linecap="butt"/>
<circle cx="634.3" cy="748.3" r="4.9" fill="#000"/>
<circle cx="634.3" cy="753.1" r="4.9" fill="#000"/>
<circle cx="722.9" cy="590" r="4.9" fill="#000"/>
<circle cx="722.9" cy="623.8" r="4.9" fill="#000"/>
<circle cx="722.9" cy="651.9" r="4.9" fill="#000"/>
<circle cx="811.7" cy="626.9" r="4.9" fill="#000"/>
<line x1="959.5" y1="453.1" x2="959.5" y2="788" stroke="#1d1d1d" stroke-width="3" stroke-linecap="butt"/>
<line x1="951.5" y1="518.6" x2="959.5" y2="518.6" stroke="#1d1d1d" stroke-width="3" stroke-linecap="butt"/>
<text x="934.5" y="527.1" text-anchor="end" font-size="27" stroke="#1d1d1d" stroke-width="0.35">4000</text>
<line x1="951.5" y1="649" x2="959.5" y2="649" stroke="#1d1d1d" stroke-width="3" stroke-linecap="butt"/>
<text x="934.5" y="657.5" text-anchor="end" font-size="27" stroke="#1d1d1d" stroke-width="0.35">2000</text>
<line x1="951.5" y1="780" x2="959.5" y2="780" stroke="#1d1d1d" stroke-width="3" stroke-linecap="butt"/>
<text x="934.5" y="788.5" text-anchor="end" font-size="27" stroke="#1d1d1d" stroke-width="0.35">0</text>
<line x1="951.5" y1="780" x2="1222.6" y2="780" stroke="#1d1d1d" stroke-width="3" stroke-linecap="butt"/>
<rect x="970.5" y="749.5" width="44.5" height="30.5" fill="#cfcdcf" stroke="#1d1d1d" stroke-width="3"/>
<rect x="1037" y="619" width="45" height="161" fill="#cfcdcf" stroke="#1d1d1d" stroke-width="3"/>
<rect x="1103.5" y="604.5" width="42.5" height="175.5" fill="#cfcdcf" stroke="#1d1d1d" stroke-width="3"/>
<rect x="1167.5" y="627.5" width="45" height="152.5" fill="#cfcdcf" stroke="#1d1d1d" stroke-width="3"/>
<line x1="1060.7" y1="587.6" x2="1060.7" y2="648.3" stroke="#1d1d1d" stroke-width="2.6" stroke-linecap="butt"/>
<line x1="1051.2" y1="587.6" x2="1060.7" y2="587.6" stroke="#1d1d1d" stroke-width="2.6" stroke-linecap="butt"/>
<line x1="1051.2" y1="648.3" x2="1060.7" y2="648.3" stroke="#1d1d1d" stroke-width="2.6" stroke-linecap="butt"/>
<circle cx="994" cy="749.5" r="4.9" fill="#000"/>
<circle cx="1060.7" cy="586.4" r="4.9" fill="#000"/>
<circle cx="1060.7" cy="620.2" r="4.9" fill="#000"/>
<circle cx="1060.7" cy="648.3" r="4.9" fill="#000"/>
<circle cx="1125" cy="603.1" r="4.9" fill="#000"/>
<circle cx="1191.2" cy="628.6" r="4.9" fill="#000"/>
<line x1="1327.6" y1="453.1" x2="1327.6" y2="788" stroke="#1d1d1d" stroke-width="3" stroke-linecap="butt"/>
<line x1="1319.6" y1="518.6" x2="1327.6" y2="518.6" stroke="#1d1d1d" stroke-width="3" stroke-linecap="butt"/>
<text x="1302.1" y="527.1" text-anchor="end" font-size="27" stroke="#1d1d1d" stroke-width="0.35">4000</text>
<line x1="1319.6" y1="649" x2="1327.6" y2="649" stroke="#1d1d1d" stroke-width="3" stroke-linecap="butt"/>
<text x="1302.1" y="657.5" text-anchor="end" font-size="27" stroke="#1d1d1d" stroke-width="0.35">2000</text>
<line x1="1319.6" y1="780" x2="1327.6" y2="780" stroke="#1d1d1d" stroke-width="3" stroke-linecap="butt"/>
<text x="1302.1" y="788.5" text-anchor="end" font-size="27" stroke="#1d1d1d" stroke-width="0.35">0</text>
<line x1="1319.6" y1="780" x2="1591" y2="780" stroke="#1d1d1d" stroke-width="3" stroke-linecap="butt"/>
<rect x="1341" y="750" width="58.5" height="30" fill="#cfcdcf" stroke="#1d1d1d" stroke-width="3"/>
<rect x="1430.5" y="619" width="58" height="161" fill="#cfcdcf" stroke="#1d1d1d" stroke-width="3"/>
<rect x="1519" y="605" width="58" height="175" fill="#cfcdcf" stroke="#1d1d1d" stroke-width="3"/>
<line x1="1462.1" y1="587.1" x2="1462.1" y2="648.8" stroke="#1d1d1d" stroke-width="2.6" stroke-linecap="butt"/>
<line x1="1452.6" y1="587.1" x2="1462.1" y2="587.1" stroke="#1d1d1d" stroke-width="2.6" stroke-linecap="butt"/>
<line x1="1452.6" y1="648.8" x2="1462.1" y2="648.8" stroke="#1d1d1d" stroke-width="2.6" stroke-linecap="butt"/>
<circle cx="1373.1" cy="749" r="4.9" fill="#000"/>
<circle cx="1462.1" cy="586.4" r="4.9" fill="#000"/>
<circle cx="1462.1" cy="620.2" r="4.9" fill="#000"/>
<circle cx="1462.1" cy="648.3" r="4.9" fill="#000"/>
<circle cx="1551" cy="603.8" r="4.9" fill="#000"/>
<line x1="40" y1="822" x2="1632.3" y2="822" stroke="#1d1d1d" stroke-width="3" stroke-linecap="butt"/>
<line x1="40" y1="870.4" x2="1632.3" y2="870.4" stroke="#1d1d1d" stroke-width="3" stroke-linecap="butt"/>
<text x="55.7" y="857" stroke="#1d1d1d" stroke-width="0.35">5mM EDTA</text>
<text x="254.2" y="857" text-anchor="middle" stroke="#1d1d1d" stroke-width="0.35">+</text>
<text x="323.2" y="857" text-anchor="middle" stroke="#1d1d1d" stroke-width="0.35">-</text>
<text x="389.8" y="857" text-anchor="middle" stroke="#1d1d1d" stroke-width="0.35">-</text>
<text x="456.9" y="857" text-anchor="middle" stroke="#1d1d1d" stroke-width="0.35">-</text>
<text x="635" y="857" text-anchor="middle" stroke="#1d1d1d" stroke-width="0.35">+</text>
<text x="725.8" y="857" text-anchor="middle" stroke="#1d1d1d" stroke-width="0.35">-</text>
<text x="814.9" y="857" text-anchor="middle" stroke="#1d1d1d" stroke-width="0.35">-</text>
<text x="995.7" y="857" text-anchor="middle" stroke="#1d1d1d" stroke-width="0.35">+</text>
<text x="1060.9" y="857" text-anchor="middle" stroke="#1d1d1d" stroke-width="0.35">-</text>
<text x="1130" y="857" text-anchor="middle" stroke="#1d1d1d" stroke-width="0.35">-</text>
<text x="1197" y="857" text-anchor="middle" stroke="#1d1d1d" stroke-width="0.35">-</text>
<text x="1375.8" y="857" text-anchor="middle" stroke="#1d1d1d" stroke-width="0.35">+</text>
<text x="1463.5" y="857" text-anchor="middle" stroke="#1d1d1d" stroke-width="0.35">-</text>
<text x="1554.8" y="857" text-anchor="middle" stroke="#1d1d1d" stroke-width="0.35">-</text>
<text x="123.5" y="899.3" text-anchor="middle" stroke="#1d1d1d" stroke-width="0.35">(NH₄)₂Fe(SO₄)₂</text>
<text x="122.2" y="929.5" text-anchor="middle" stroke="#1d1d1d" stroke-width="0.35">μM</text>
<text x="250.6" y="915" text-anchor="middle" stroke="#1d1d1d" stroke-width="0.35">50</text>
<text x="319.9" y="915" text-anchor="middle" stroke="#1d1d1d" stroke-width="0.35">50</text>
<text x="389.6" y="915" text-anchor="middle" stroke="#1d1d1d" stroke-width="0.35">75</text>
<text x="458.2" y="915" text-anchor="middle" stroke="#1d1d1d" stroke-width="0.35">283</text>
<text x="628.9" y="915" text-anchor="middle" stroke="#1d1d1d" stroke-width="0.35">0.3</text>
<text x="723.3" y="915" text-anchor="middle" stroke="#1d1d1d" stroke-width="0.35">0.3</text>
<text x="816" y="915" text-anchor="middle" stroke="#1d1d1d" stroke-width="0.35">1</text>
<text x="987.9" y="915" text-anchor="middle" stroke="#1d1d1d" stroke-width="0.35">300</text>
<text x="1058.5" y="915" text-anchor="middle" stroke="#1d1d1d" stroke-width="0.35">0</text>
<text x="1127.2" y="915" text-anchor="middle" stroke="#1d1d1d" stroke-width="0.35">10</text>
<text x="1198.6" y="915" text-anchor="middle" stroke="#1d1d1d" stroke-width="0.35">300</text>
<text x="1371.9" y="915" text-anchor="middle" stroke="#1d1d1d" stroke-width="0.35">2</text>
<text x="1463.4" y="915" text-anchor="middle" stroke="#1d1d1d" stroke-width="0.35">2</text>
<text x="1554.8" y="915" text-anchor="middle" stroke="#1d1d1d" stroke-width="0.35">0</text>
<text x="535.7" y="900.5" text-anchor="middle" stroke="#1d1d1d" stroke-width="0.35"><tspan font-family="Liberation Serif" font-style="italic">α</tspan>KG</text>
<text x="535.7" y="932" text-anchor="middle" stroke="#1d1d1d" stroke-width="0.35">mM</text>
<text x="898.3" y="899.3" text-anchor="middle" stroke="#1d1d1d" stroke-width="0.35">KCl</text>
<text x="898.8" y="929.5" text-anchor="middle" stroke="#1d1d1d" stroke-width="0.35">mM</text>
<text x="1274.6" y="898.2" text-anchor="middle" stroke="#1d1d1d" stroke-width="0.35">MgCl₂</text>
<text x="1276.5" y="928.7" text-anchor="middle" stroke="#1d1d1d" stroke-width="0.35">mM</text>
<text x="1671.5" y="467.2" font-size="24" font-weight="bold" stroke="#1d1d1d" stroke-width="0.35">d</text>
<line x1="1840.9" y1="456" x2="1840.9" y2="821.8" stroke="#1d1d1d" stroke-width="3" stroke-linecap="butt"/>
<line x1="1831.3" y1="524.7" x2="1840.9" y2="524.7" stroke="#1d1d1d" stroke-width="3" stroke-linecap="butt"/>
<text x="1815.3" y="533.2" text-anchor="end" font-size="27" stroke="#1d1d1d" stroke-width="0.35">4000</text>
<line x1="1831.3" y1="663.6" x2="1840.9" y2="663.6" stroke="#1d1d1d" stroke-width="3" stroke-linecap="butt"/>
<text x="1815.3" y="672.1" text-anchor="end" font-size="27" stroke="#1d1d1d" stroke-width="0.35">2000</text>
<line x1="1831.3" y1="804.2" x2="1840.9" y2="804.2" stroke="#1d1d1d" stroke-width="3" stroke-linecap="butt"/>
<text x="1815.3" y="812.7" text-anchor="end" font-size="27" stroke="#1d1d1d" stroke-width="0.35">0</text>
<line x1="1831.3" y1="804.2" x2="2308.9" y2="804.2" stroke="#1d1d1d" stroke-width="3" stroke-linecap="butt"/>
<rect x="1871.5" y="647" width="58" height="157.2" fill="#cfcdcf" stroke="#1d1d1d" stroke-width="3"/>
<rect x="1988" y="550" width="58" height="254.2" fill="#cfcdcf" stroke="#1d1d1d" stroke-width="3"/>
<rect x="2104.5" y="563.5" width="58" height="240.7" fill="#cfcdcf" stroke="#1d1d1d" stroke-width="3"/>
<rect x="2221.5" y="607.5" width="60" height="196.7" fill="#cfcdcf" stroke="#1d1d1d" stroke-width="3"/>
<line x1="1900.9" y1="565.6" x2="1900.9" y2="730" stroke="#1d1d1d" stroke-width="2.6" stroke-linecap="butt"/>
<line x1="1895.9" y1="565.6" x2="1905.9" y2="565.6" stroke="#1d1d1d" stroke-width="2.6" stroke-linecap="butt"/>
<line x1="1895.9" y1="730" x2="1905.9" y2="730" stroke="#1d1d1d" stroke-width="2.6" stroke-linecap="butt"/>
<line x1="2017.5" y1="535.2" x2="2017.5" y2="566.2" stroke="#1d1d1d" stroke-width="2.6" stroke-linecap="butt"/>
<line x1="2012.5" y1="535.2" x2="2022.5" y2="535.2" stroke="#1d1d1d" stroke-width="2.6" stroke-linecap="butt"/>
<line x1="2012.5" y1="566.2" x2="2022.5" y2="566.2" stroke="#1d1d1d" stroke-width="2.6" stroke-linecap="butt"/>
<line x1="2134.2" y1="541.6" x2="2134.2" y2="585.4" stroke="#1d1d1d" stroke-width="2.6" stroke-linecap="butt"/>
<line x1="2129.2" y1="541.6" x2="2139.2" y2="541.6" stroke="#1d1d1d" stroke-width="2.6" stroke-linecap="butt"/>
<line x1="2129.2" y1="585.4" x2="2139.2" y2="585.4" stroke="#1d1d1d" stroke-width="2.6" stroke-linecap="butt"/>
<line x1="2253" y1="599.1" x2="2253" y2="622.1" stroke="#1d1d1d" stroke-width="2.6" stroke-linecap="butt"/>
<line x1="2248" y1="599.1" x2="2258" y2="599.1" stroke="#1d1d1d" stroke-width="2.6" stroke-linecap="butt"/>
<line x1="2248" y1="622.1" x2="2258" y2="622.1" stroke="#1d1d1d" stroke-width="2.6" stroke-linecap="butt"/>
<circle cx="1900.9" cy="565.6" r="5" fill="#000"/>
<circle cx="1900.9" cy="730" r="5" fill="#000"/>
<circle cx="2017.5" cy="535.2" r="5" fill="#000"/>
<circle cx="2017.5" cy="566.2" r="5" fill="#000"/>
<circle cx="2134.2" cy="541.6" r="5" fill="#000"/>
<circle cx="2134.2" cy="585.4" r="5" fill="#000"/>
<circle cx="2253" cy="599.1" r="5" fill="#000"/>
<circle cx="2253" cy="622.1" r="5" fill="#000"/>
<text x="1730" y="630.5" text-anchor="middle" stroke="#1d1d1d" stroke-width="0.35" transform="rotate(-90 1730 630.5)">Fluorescence (RFU)</text>
<line x1="1655.6" y1="823.4" x2="2313.7" y2="823.4" stroke="#1d1d1d" stroke-width="3" stroke-linecap="butt"/>
<line x1="1655.6" y1="871.3" x2="2313.7" y2="871.3" stroke="#1d1d1d" stroke-width="3" stroke-linecap="butt"/>
<text x="1747.4" y="858.5" text-anchor="middle" stroke="#1d1d1d" stroke-width="0.35">temp (ºC)</text>
<text x="1900.7" y="858.5" text-anchor="middle" stroke="#1d1d1d" stroke-width="0.35">37</text>
<text x="2018.2" y="858.5" text-anchor="middle" stroke="#1d1d1d" stroke-width="0.35">25</text>
<text x="2134" y="858.5" text-anchor="middle" stroke="#1d1d1d" stroke-width="0.35">37</text>
<text x="2251.4" y="858.5" text-anchor="middle" stroke="#1d1d1d" stroke-width="0.35">25</text>
<text x="1745" y="900" text-anchor="middle" stroke="#1d1d1d" stroke-width="0.35">(NH₄)₂Fe(SO₄)₂</text>
<text x="1744.2" y="928.8" text-anchor="middle" stroke="#1d1d1d" stroke-width="0.35">μM</text>
<text x="1901.3" y="914.4" text-anchor="middle" stroke="#1d1d1d" stroke-width="0.35">283</text>
<text x="2018" y="914.4" text-anchor="middle" stroke="#1d1d1d" stroke-width="0.35">283</text>
<text x="2134.5" y="914.4" text-anchor="middle" stroke="#1d1d1d" stroke-width="0.35">75</text>
<text x="2251.5" y="914.4" text-anchor="middle" stroke="#1d1d1d" stroke-width="0.35">75</text>
<text x="3.2" y="1070.4" font-size="24" font-weight="bold" stroke="#1d1d1d" stroke-width="0.35">e</text>
<line x1="234.5" y1="1049.6" x2="234.5" y2="1396.7" stroke="#1d1d1d" stroke-width="3" stroke-linecap="butt"/>
<line x1="225.5" y1="1050.6" x2="234.5" y2="1050.6" stroke="#1d1d1d" stroke-width="3" stroke-linecap="butt"/>
<text x="207.9" y="1059.6" text-anchor="end" font-size="27" stroke="#1d1d1d" stroke-width="0.35">500</text>
<line x1="225.5" y1="1116.8" x2="234.5" y2="1116.8" stroke="#1d1d1d" stroke-width="3" stroke-linecap="butt"/>
<text x="207.9" y="1125.8" text-anchor="end" font-size="27" stroke="#1d1d1d" stroke-width="0.35">400</text>
<line x1="225.5" y1="1184" x2="234.5" y2="1184" stroke="#1d1d1d" stroke-width="3" stroke-linecap="butt"/>
<text x="207.9" y="1193" text-anchor="end" font-size="27" stroke="#1d1d1d" stroke-width="0.35">300</text>
<line x1="225.5" y1="1252.7" x2="234.5" y2="1252.7" stroke="#1d1d1d" stroke-width="3" stroke-linecap="butt"/>
<text x="207.9" y="1261.7" text-anchor="end" font-size="27" stroke="#1d1d1d" stroke-width="0.35">200</text>
<line x1="225.5" y1="1319.9" x2="234.5" y2="1319.9" stroke="#1d1d1d" stroke-width="3" stroke-linecap="butt"/>
<text x="207.9" y="1328.9" text-anchor="end" font-size="27" stroke="#1d1d1d" stroke-width="0.35">100</text>
<line x1="225.5" y1="1388.7" x2="234.5" y2="1388.7" stroke="#1d1d1d" stroke-width="3" stroke-linecap="butt"/>
<text x="207.9" y="1397.7" text-anchor="end" font-size="27" stroke="#1d1d1d" stroke-width="0.35">0</text>
<line x1="225.5" y1="1388.7" x2="714" y2="1388.7" stroke="#1d1d1d" stroke-width="3" stroke-linecap="butt"/>
<rect x="248" y="1284" width="52.5" height="104.7" fill="#cfcdcf" stroke="#1d1d1d" stroke-width="3"/>
<rect x="328" y="1162" width="53" height="226.7" fill="#cfcdcf" stroke="#1d1d1d" stroke-width="3"/>
<rect x="408.5" y="1195" width="53" height="193.7" fill="#cfcdcf" stroke="#1d1d1d" stroke-width="3"/>
<rect x="485.5" y="1134" width="56.5" height="254.7" fill="#cfcdcf" stroke="#1d1d1d" stroke-width="3"/>
<rect x="647" y="1134" width="53.5" height="254.7" fill="#cfcdcf" stroke="#1d1d1d" stroke-width="3"/>
<line x1="273.5" y1="1250.2" x2="273.5" y2="1318" stroke="#1d1d1d" stroke-width="2.6" stroke-linecap="butt"/>
<line x1="266.5" y1="1250.2" x2="280.5" y2="1250.2" stroke="#1d1d1d" stroke-width="2.6" stroke-linecap="butt"/>
<line x1="266.5" y1="1318" x2="280.5" y2="1318" stroke="#1d1d1d" stroke-width="2.6" stroke-linecap="butt"/>
<line x1="354.1" y1="1108.8" x2="354.1" y2="1216.9" stroke="#1d1d1d" stroke-width="2.6" stroke-linecap="butt"/>
<line x1="347.1" y1="1108.8" x2="361.1" y2="1108.8" stroke="#1d1d1d" stroke-width="2.6" stroke-linecap="butt"/>
<line x1="347.1" y1="1216.9" x2="361.1" y2="1216.9" stroke="#1d1d1d" stroke-width="2.6" stroke-linecap="butt"/>
<line x1="434.1" y1="1140.1" x2="434.1" y2="1253.4" stroke="#1d1d1d" stroke-width="2.6" stroke-linecap="butt"/>
<line x1="427.1" y1="1140.1" x2="441.1" y2="1140.1" stroke="#1d1d1d" stroke-width="2.6" stroke-linecap="butt"/>
<line x1="427.1" y1="1253.4" x2="441.1" y2="1253.4" stroke="#1d1d1d" stroke-width="2.6" stroke-linecap="butt"/>
<line x1="514.4" y1="1077.7" x2="514.4" y2="1192" stroke="#1d1d1d" stroke-width="2.6" stroke-linecap="butt"/>
<line x1="507.4" y1="1077.7" x2="521.4" y2="1077.7" stroke="#1d1d1d" stroke-width="2.6" stroke-linecap="butt"/>
<line x1="507.4" y1="1192" x2="521.4" y2="1192" stroke="#1d1d1d" stroke-width="2.6" stroke-linecap="butt"/>
<line x1="675" y1="1105.6" x2="675" y2="1161.6" stroke="#1d1d1d" stroke-width="2.6" stroke-linecap="butt"/>
<line x1="668" y1="1105.6" x2="682" y2="1105.6" stroke="#1d1d1d" stroke-width="2.6" stroke-linecap="butt"/>
<line x1="668" y1="1161.6" x2="682" y2="1161.6" stroke="#1d1d1d" stroke-width="2.6" stroke-linecap="butt"/>
<circle cx="273.5" cy="1232.9" r="5.3" fill="#000"/>
<circle cx="273.5" cy="1258.2" r="5.3" fill="#000"/>
<circle cx="273.5" cy="1282.2" r="5.3" fill="#000"/>
<circle cx="273.5" cy="1291.8" r="5.3" fill="#000"/>
<circle cx="273.5" cy="1316.7" r="5.3" fill="#000"/>
<circle cx="273.5" cy="1319.3" r="5.3" fill="#000"/>
<circle cx="354.1" cy="1114.2" r="5.3" fill="#000"/>
<circle cx="354.1" cy="1119" r="5.3" fill="#000"/>
<circle cx="354.1" cy="1185.6" r="5.3" fill="#000"/>
<circle cx="354.1" cy="1220.7" r="5.3" fill="#000"/>
<circle cx="354.1" cy="1225.5" r="5.3" fill="#000"/>
<circle cx="434.1" cy="1116.8" r="5.3" fill="#000"/>
<circle cx="434.1" cy="1164.1" r="5.3" fill="#000"/>
<circle cx="434.1" cy="1232.6" r="5.3" fill="#000"/>
<circle cx="434.1" cy="1239" r="5.3" fill="#000"/>
<circle cx="434.1" cy="1260.7" r="5.3" fill="#000"/>
<circle cx="514.4" cy="1072" r="5.3" fill="#000"/>
<circle cx="514.4" cy="1080.6" r="5.3" fill="#000"/>
<circle cx="514.4" cy="1111" r="5.3" fill="#000"/>
<circle cx="514.4" cy="1167" r="5.3" fill="#000"/>
<circle cx="514.4" cy="1177.6" r="5.3" fill="#000"/>
<circle cx="514.4" cy="1208.6" r="5.3" fill="#000"/>
<circle cx="595" cy="1388.7" r="5.3" fill="#000"/>
<circle cx="675" cy="1100.1" r="5.3" fill="#000"/>
<circle cx="675" cy="1111" r="5.3" fill="#000"/>
<circle cx="675" cy="1128" r="5.3" fill="#000"/>
<circle cx="675" cy="1139.2" r="5.3" fill="#000"/>
<circle cx="675" cy="1152.6" r="5.3" fill="#000"/>
<circle cx="675" cy="1175.3" r="5.3" fill="#000"/>
<text x="146" y="1199" text-anchor="middle" stroke="#1d1d1d" stroke-width="0.35" transform="rotate(-90 146 1199)">A (nM)</text>
<line x1="923.7" y1="1050.6" x2="923.7" y2="1397.1" stroke="#1d1d1d" stroke-width="3" stroke-linecap="butt"/>
<line x1="914.7" y1="1051.2" x2="923.7" y2="1051.2" stroke="#1d1d1d" stroke-width="3" stroke-linecap="butt"/>
<text x="895.5" y="1060.2" text-anchor="end" font-size="27" stroke="#1d1d1d" stroke-width="0.35">800</text>
<line x1="914.7" y1="1134.4" x2="923.7" y2="1134.4" stroke="#1d1d1d" stroke-width="3" stroke-linecap="butt"/>
<text x="895.5" y="1143.4" text-anchor="end" font-size="27" stroke="#1d1d1d" stroke-width="0.35">600</text>
<line x1="914.7" y1="1220.1" x2="923.7" y2="1220.1" stroke="#1d1d1d" stroke-width="3" stroke-linecap="butt"/>
<text x="895.5" y="1229.1" text-anchor="end" font-size="27" stroke="#1d1d1d" stroke-width="0.35">400</text>
<line x1="914.7" y1="1303.3" x2="923.7" y2="1303.3" stroke="#1d1d1d" stroke-width="3" stroke-linecap="butt"/>
<text x="895.5" y="1312.3" text-anchor="end" font-size="27" stroke="#1d1d1d" stroke-width="0.35">200</text>
<line x1="914.7" y1="1389.6" x2="923.7" y2="1389.6" stroke="#1d1d1d" stroke-width="3" stroke-linecap="butt"/>
<text x="895.5" y="1398.6" text-anchor="end" font-size="27" stroke="#1d1d1d" stroke-width="0.35">0</text>
<line x1="914.7" y1="1389.6" x2="1403.4" y2="1389.6" stroke="#1d1d1d" stroke-width="3" stroke-linecap="butt"/>
<rect x="935" y="1251" width="56" height="138.6" fill="#cfcdcf" stroke="#1d1d1d" stroke-width="3"/>
<rect x="1016" y="1139.5" width="55" height="250.1" fill="#cfcdcf" stroke="#1d1d1d" stroke-width="3"/>
<rect x="1096" y="1172.5" width="53" height="217.1" fill="#cfcdcf" stroke="#1d1d1d" stroke-width="3"/>
<rect x="1177" y="1175.5" width="52.5" height="214.1" fill="#cfcdcf" stroke="#1d1d1d" stroke-width="3"/>
<rect x="1338" y="1172.5" width="52.5" height="217.1" fill="#cfcdcf" stroke="#1d1d1d" stroke-width="3"/>
<line x1="964.6" y1="1205.9" x2="964.6" y2="1295.8" stroke="#1d1d1d" stroke-width="2.6" stroke-linecap="butt"/>
<line x1="957.6" y1="1205.9" x2="971.6" y2="1205.9" stroke="#1d1d1d" stroke-width="2.6" stroke-linecap="butt"/>
<line x1="957.6" y1="1295.8" x2="971.6" y2="1295.8" stroke="#1d1d1d" stroke-width="2.6" stroke-linecap="butt"/>
<line x1="1045.4" y1="1078.4" x2="1045.4" y2="1203.4" stroke="#1d1d1d" stroke-width="2.6" stroke-linecap="butt"/>
<line x1="1038.4" y1="1078.4" x2="1052.4" y2="1078.4" stroke="#1d1d1d" stroke-width="2.6" stroke-linecap="butt"/>
<line x1="1038.4" y1="1203.4" x2="1052.4" y2="1203.4" stroke="#1d1d1d" stroke-width="2.6" stroke-linecap="butt"/>
<line x1="1125.6" y1="1111.7" x2="1125.6" y2="1233.7" stroke="#1d1d1d" stroke-width="2.6" stroke-linecap="butt"/>
<line x1="1118.6" y1="1111.7" x2="1132.6" y2="1111.7" stroke="#1d1d1d" stroke-width="2.6" stroke-linecap="butt"/>
<line x1="1118.6" y1="1233.7" x2="1132.6" y2="1233.7" stroke="#1d1d1d" stroke-width="2.6" stroke-linecap="butt"/>
<line x1="1204.3" y1="1130.8" x2="1204.3" y2="1220.7" stroke="#1d1d1d" stroke-width="2.6" stroke-linecap="butt"/>
<line x1="1197.3" y1="1130.8" x2="1211.3" y2="1130.8" stroke="#1d1d1d" stroke-width="2.6" stroke-linecap="butt"/>
<line x1="1197.3" y1="1220.7" x2="1211.3" y2="1220.7" stroke="#1d1d1d" stroke-width="2.6" stroke-linecap="butt"/>
<line x1="1364.7" y1="1144.4" x2="1364.7" y2="1198" stroke="#1d1d1d" stroke-width="2.6" stroke-linecap="butt"/>
<line x1="1357.7" y1="1144.4" x2="1371.7" y2="1144.4" stroke="#1d1d1d" stroke-width="2.6" stroke-linecap="butt"/>
<line x1="1357.7" y1="1198" x2="1371.7" y2="1198" stroke="#1d1d1d" stroke-width="2.6" stroke-linecap="butt"/>
<circle cx="964.6" cy="1183.8" r="5.3" fill="#000"/>
<circle cx="964.6" cy="1214.9" r="5.3" fill="#000"/>
<circle cx="964.6" cy="1253.4" r="5.3" fill="#000"/>
<circle cx="964.6" cy="1273" r="5.3" fill="#000"/>
<circle cx="964.6" cy="1291.8" r="5.3" fill="#000"/>
<circle cx="964.6" cy="1297.9" r="5.3" fill="#000"/>
<circle cx="1045.4" cy="1064.2" r="5.3" fill="#000"/>
<circle cx="1045.4" cy="1092.1" r="5.3" fill="#000"/>
<circle cx="1045.4" cy="1114.8" r="5.3" fill="#000"/>
<circle cx="1045.4" cy="1164.7" r="5.3" fill="#000"/>
<circle cx="1045.4" cy="1203.4" r="5.3" fill="#000"/>
<circle cx="1045.4" cy="1217.7" r="5.3" fill="#000"/>
<circle cx="1125.6" cy="1078.4" r="5.3" fill="#000"/>
<circle cx="1125.6" cy="1123.2" r="5.3" fill="#000"/>
<circle cx="1125.6" cy="1189.2" r="5.3" fill="#000"/>
<circle cx="1125.6" cy="1195.9" r="5.3" fill="#000"/>
<circle cx="1125.6" cy="1220.7" r="5.3" fill="#000"/>
<circle cx="1125.6" cy="1236.7" r="5.3" fill="#000"/>
<circle cx="1204.3" cy="1109" r="5.3" fill="#000"/>
<circle cx="1204.3" cy="1148" r="5.3" fill="#000"/>
<circle cx="1204.3" cy="1162" r="5.3" fill="#000"/>
<circle cx="1204.3" cy="1203.4" r="5.3" fill="#000"/>
<circle cx="1204.3" cy="1211.9" r="5.3" fill="#000"/>
<circle cx="1204.3" cy="1228.3" r="5.3" fill="#000"/>
<circle cx="1283.6" cy="1389.6" r="5.3" fill="#000"/>
<circle cx="1364.7" cy="1141.4" r="5.3" fill="#000"/>
<circle cx="1364.7" cy="1145.3" r="5.3" fill="#000"/>
<circle cx="1364.7" cy="1172.6" r="5.3" fill="#000"/>
<circle cx="1364.7" cy="1178.6" r="5.3" fill="#000"/>
<circle cx="1364.7" cy="1195.9" r="5.3" fill="#000"/>
<circle cx="1364.7" cy="1206.5" r="5.3" fill="#000"/>
<text x="833" y="1199" text-anchor="middle" stroke="#1d1d1d" stroke-width="0.35" transform="rotate(-90 833 1199)">G (nM)</text>
<line x1="1618.8" y1="1049.2" x2="1618.8" y2="1394.5" stroke="#1d1d1d" stroke-width="3" stroke-linecap="butt"/>
<line x1="1609.8" y1="1097.7" x2="1618.8" y2="1097.7" stroke="#1d1d1d" stroke-width="3" stroke-linecap="butt"/>
<text x="1593.4" y="1106.7" text-anchor="end" font-size="27" stroke="#1d1d1d" stroke-width="0.35">0.3</text>
<line x1="1609.8" y1="1195" x2="1618.8" y2="1195" stroke="#1d1d1d" stroke-width="3" stroke-linecap="butt"/>
<text x="1593.4" y="1204" text-anchor="end" font-size="27" stroke="#1d1d1d" stroke-width="0.35">0.2</text>
<line x1="1609.8" y1="1289.2" x2="1618.8" y2="1289.2" stroke="#1d1d1d" stroke-width="3" stroke-linecap="butt"/>
<text x="1593.4" y="1298.2" text-anchor="end" font-size="27" stroke="#1d1d1d" stroke-width="0.35">0.1</text>
<line x1="1609.8" y1="1386.2" x2="1618.8" y2="1386.2" stroke="#1d1d1d" stroke-width="3" stroke-linecap="butt"/>
<text x="1593.4" y="1395.2" text-anchor="end" font-size="27" stroke="#1d1d1d" stroke-width="0.35">0</text>
<line x1="1609.8" y1="1386.2" x2="2090.6" y2="1386.2" stroke="#1d1d1d" stroke-width="3" stroke-linecap="butt"/>
<rect x="1868" y="1353" width="53" height="33.2" fill="#cfcdcf" stroke="#1d1d1d" stroke-width="3"/>
<rect x="2027" y="1111.5" width="52" height="274.7" fill="#cfcdcf" stroke="#1d1d1d" stroke-width="3"/>
<line x1="1894.8" y1="1341.7" x2="1894.8" y2="1355" stroke="#1d1d1d" stroke-width="2.6" stroke-linecap="butt"/>
<line x1="1887.8" y1="1341.7" x2="1901.8" y2="1341.7" stroke="#1d1d1d" stroke-width="2.6" stroke-linecap="butt"/>
<line x1="1887.8" y1="1355" x2="1901.8" y2="1355" stroke="#1d1d1d" stroke-width="2.6" stroke-linecap="butt"/>
<line x1="2052.8" y1="1078.4" x2="2052.8" y2="1145.3" stroke="#1d1d1d" stroke-width="2.6" stroke-linecap="butt"/>
<line x1="2045.8" y1="1078.4" x2="2059.8" y2="1078.4" stroke="#1d1d1d" stroke-width="2.6" stroke-linecap="butt"/>
<line x1="2045.8" y1="1145.3" x2="2059.8" y2="1145.3" stroke="#1d1d1d" stroke-width="2.6" stroke-linecap="butt"/>
<circle cx="1658.7" cy="1362.3" r="5.3" fill="#000"/>
<circle cx="1658.7" cy="1386.8" r="5.3" fill="#000"/>
<circle cx="1736.7" cy="1386.8" r="5.3" fill="#000"/>
<circle cx="1816.8" cy="1386.8" r="5.3" fill="#000"/>
<circle cx="1812.8" cy="1386.8" r="5.3" fill="#000"/>
<circle cx="1894.8" cy="1334.7" r="5.3" fill="#000"/>
<circle cx="1894.8" cy="1353.1" r="5.3" fill="#000"/>
<circle cx="1894.8" cy="1358" r="5.3" fill="#000"/>
<circle cx="1894.8" cy="1360.7" r="5.3" fill="#000"/>
<circle cx="1974.9" cy="1386.8" r="5.3" fill="#000"/>
<circle cx="2052.8" cy="1070.7" r="5.3" fill="#000"/>
<circle cx="2052.8" cy="1094.6" r="5.3" fill="#000"/>
<circle cx="2052.8" cy="1121.3" r="5.3" fill="#000"/>
<circle cx="2052.8" cy="1126.9" r="5.3" fill="#000"/>
<circle cx="2052.8" cy="1165.2" r="5.3" fill="#000"/>
<text x="1541" y="1198" text-anchor="middle" stroke="#1d1d1d" stroke-width="0.35" transform="rotate(-90 1541 1198)">m¹A/A (%)</text>
<text x="1660.9" y="1343.9" text-anchor="middle" stroke="#1d1d1d" stroke-width="0.35">0.00</text>
<text x="1736.4" y="1368.4" text-anchor="middle" stroke="#1d1d1d" stroke-width="0.35">0.00</text>
<text x="1815.1" y="1368.4" text-anchor="middle" stroke="#1d1d1d" stroke-width="0.35">0.00</text>
<text x="1894.2" y="1318.7" text-anchor="middle" stroke="#1d1d1d" stroke-width="0.35">0.03</text>
<text x="1972.4" y="1368.4" text-anchor="middle" stroke="#1d1d1d" stroke-width="0.35">0.00</text>
<text x="2053.8" y="1060" text-anchor="middle" stroke="#1d1d1d" stroke-width="0.35">0.28</text>
<line x1="57.6" y1="1402.8" x2="715" y2="1402.8" stroke="#1d1d1d" stroke-width="3" stroke-linecap="butt"/>
<line x1="57.6" y1="1447.6" x2="715" y2="1447.6" stroke="#1d1d1d" stroke-width="3" stroke-linecap="butt"/>
<line x1="57.6" y1="1489.2" x2="715" y2="1489.2" stroke="#1d1d1d" stroke-width="3" stroke-linecap="butt"/>
<line x1="57.6" y1="1533.5" x2="715" y2="1533.5" stroke="#1d1d1d" stroke-width="3" stroke-linecap="butt"/>
<text x="139" y="1437.3" text-anchor="middle" stroke="#1d1d1d" stroke-width="0.35">RNA</text>
<text x="139" y="1478" text-anchor="middle" stroke="#1d1d1d" stroke-width="0.35">AlkB</text>
<text x="139.2" y="1519.6" text-anchor="middle" stroke="#1d1d1d" stroke-width="0.35">temp (ºC)</text>
<text x="140.2" y="1557.9" text-anchor="middle" stroke="#1d1d1d" stroke-width="0.35">(NH₄)₂Fe(SO₄)₂</text>
<text x="139" y="1585.1" text-anchor="middle" stroke="#1d1d1d" stroke-width="0.35">μM</text>
<text x="273.5" y="1437.3" text-anchor="middle" stroke="#1d1d1d" stroke-width="0.35">+</text>
<text x="273.5" y="1478" text-anchor="middle" stroke="#1d1d1d" stroke-width="0.35">+</text>
<text x="273.5" y="1519.6" text-anchor="middle" stroke="#1d1d1d" stroke-width="0.35">37</text>
<text x="273.5" y="1572.3" text-anchor="middle" stroke="#1d1d1d" stroke-width="0.35">283</text>
<text x="356.5" y="1437.3" text-anchor="middle" stroke="#1d1d1d" stroke-width="0.35">+</text>
<text x="356.5" y="1478" text-anchor="middle" stroke="#1d1d1d" stroke-width="0.35">+</text>
<text x="356.5" y="1519.6" text-anchor="middle" stroke="#1d1d1d" stroke-width="0.35">25</text>
<text x="356.5" y="1572.3" text-anchor="middle" stroke="#1d1d1d" stroke-width="0.35">283</text>
<text x="439.5" y="1437.3" text-anchor="middle" stroke="#1d1d1d" stroke-width="0.35">+</text>
<text x="439.5" y="1478" text-anchor="middle" stroke="#1d1d1d" stroke-width="0.35">+</text>
<text x="439.5" y="1519.6" text-anchor="middle" stroke="#1d1d1d" stroke-width="0.35">37</text>
<text x="439.5" y="1572.3" text-anchor="middle" stroke="#1d1d1d" stroke-width="0.35">75</text>
<text x="520.5" y="1437.3" text-anchor="middle" stroke="#1d1d1d" stroke-width="0.35">+</text>
<text x="520.5" y="1478" text-anchor="middle" stroke="#1d1d1d" stroke-width="0.35">+</text>
<text x="520.5" y="1519.6" text-anchor="middle" stroke="#1d1d1d" stroke-width="0.35">25</text>
<text x="520.5" y="1572.3" text-anchor="middle" stroke="#1d1d1d" stroke-width="0.35">75</text>
<text x="603.2" y="1437.3" text-anchor="middle" stroke="#1d1d1d" stroke-width="0.35">-</text>
<text x="603.2" y="1478" text-anchor="middle" stroke="#1d1d1d" stroke-width="0.35">+</text>
<text x="603.2" y="1519.6" text-anchor="middle" stroke="#1d1d1d" stroke-width="0.35">37</text>
<text x="603.2" y="1572.3" text-anchor="middle" stroke="#1d1d1d" stroke-width="0.35">283</text>
<text x="685.6" y="1437.3" text-anchor="middle" stroke="#1d1d1d" stroke-width="0.35">+</text>
<text x="685.6" y="1478" text-anchor="middle" stroke="#1d1d1d" stroke-width="0.35">-</text>
<text x="685.6" y="1519.6" text-anchor="middle" stroke="#1d1d1d" stroke-width="0.35">37</text>
<text x="685.6" y="1572.3" text-anchor="middle" stroke="#1d1d1d" stroke-width="0.35">283</text>
<line x1="744.9" y1="1402.8" x2="1401.7" y2="1402.8" stroke="#1d1d1d" stroke-width="3" stroke-linecap="butt"/>
<line x1="744.9" y1="1447.6" x2="1401.7" y2="1447.6" stroke="#1d1d1d" stroke-width="3" stroke-linecap="butt"/>
<line x1="744.9" y1="1489.2" x2="1401.7" y2="1489.2" stroke="#1d1d1d" stroke-width="3" stroke-linecap="butt"/>
<line x1="744.9" y1="1533.5" x2="1401.7" y2="1533.5" stroke="#1d1d1d" stroke-width="3" stroke-linecap="butt"/>
<text x="825.5" y="1437.3" text-anchor="middle" stroke="#1d1d1d" stroke-width="0.35">RNA</text>
<text x="825.5" y="1478" text-anchor="middle" stroke="#1d1d1d" stroke-width="0.35">AlkB</text>
<text x="826.6" y="1519.6" text-anchor="middle" stroke="#1d1d1d" stroke-width="0.35">temp (ºC)</text>
<text x="827.6" y="1557.9" text-anchor="middle" stroke="#1d1d1d" stroke-width="0.35">(NH₄)₂Fe(SO₄)₂</text>
<text x="825.5" y="1585.1" text-anchor="middle" stroke="#1d1d1d" stroke-width="0.35">μM</text>
<text x="959.1" y="1437.3" text-anchor="middle" stroke="#1d1d1d" stroke-width="0.35">+</text>
<text x="959.1" y="1478" text-anchor="middle" stroke="#1d1d1d" stroke-width="0.35">+</text>
<text x="959.1" y="1519.6" text-anchor="middle" stroke="#1d1d1d" stroke-width="0.35">37</text>
<text x="959.1" y="1572.3" text-anchor="middle" stroke="#1d1d1d" stroke-width="0.35">283</text>
<text x="1042.2" y="1437.3" text-anchor="middle" stroke="#1d1d1d" stroke-width="0.35">+</text>
<text x="1042.2" y="1478" text-anchor="middle" stroke="#1d1d1d" stroke-width="0.35">+</text>
<text x="1042.2" y="1519.6" text-anchor="middle" stroke="#1d1d1d" stroke-width="0.35">25</text>
<text x="1042.2" y="1572.3" text-anchor="middle" stroke="#1d1d1d" stroke-width="0.35">283</text>
<text x="1124.7" y="1437.3" text-anchor="middle" stroke="#1d1d1d" stroke-width="0.35">+</text>
<text x="1124.7" y="1478" text-anchor="middle" stroke="#1d1d1d" stroke-width="0.35">+</text>
<text x="1124.7" y="1519.6" text-anchor="middle" stroke="#1d1d1d" stroke-width="0.35">37</text>
<text x="1124.7" y="1572.3" text-anchor="middle" stroke="#1d1d1d" stroke-width="0.35">75</text>
<text x="1208.7" y="1437.3" text-anchor="middle" stroke="#1d1d1d" stroke-width="0.35">+</text>
<text x="1208.7" y="1478" text-anchor="middle" stroke="#1d1d1d" stroke-width="0.35">+</text>
<text x="1208.7" y="1519.6" text-anchor="middle" stroke="#1d1d1d" stroke-width="0.35">25</text>
<text x="1208.7" y="1572.3" text-anchor="middle" stroke="#1d1d1d" stroke-width="0.35">75</text>
<text x="1291.2" y="1437.3" text-anchor="middle" stroke="#1d1d1d" stroke-width="0.35">-</text>
<text x="1291.2" y="1478" text-anchor="middle" stroke="#1d1d1d" stroke-width="0.35">+</text>
<text x="1291.2" y="1519.6" text-anchor="middle" stroke="#1d1d1d" stroke-width="0.35">37</text>
<text x="1291.2" y="1572.3" text-anchor="middle" stroke="#1d1d1d" stroke-width="0.35">283</text>
<text x="1372.1" y="1437.3" text-anchor="middle" stroke="#1d1d1d" stroke-width="0.35">+</text>
<text x="1372.1" y="1478" text-anchor="middle" stroke="#1d1d1d" stroke-width="0.35">-</text>
<text x="1372.1" y="1519.6" text-anchor="middle" stroke="#1d1d1d" stroke-width="0.35">37</text>
<text x="1372.1" y="1572.3" text-anchor="middle" stroke="#1d1d1d" stroke-width="0.35">283</text>
<line x1="1431.1" y1="1402.8" x2="2088" y2="1402.8" stroke="#1d1d1d" stroke-width="3" stroke-linecap="butt"/>
<line x1="1431.1" y1="1447.6" x2="2088" y2="1447.6" stroke="#1d1d1d" stroke-width="3" stroke-linecap="butt"/>
<line x1="1431.1" y1="1489.2" x2="2088" y2="1489.2" stroke="#1d1d1d" stroke-width="3" stroke-linecap="butt"/>
<line x1="1431.1" y1="1533.5" x2="2088" y2="1533.5" stroke="#1d1d1d" stroke-width="3" stroke-linecap="butt"/>
<text x="1513.2" y="1437.3" text-anchor="middle" stroke="#1d1d1d" stroke-width="0.35">RNA</text>
<text x="1513.2" y="1478" text-anchor="middle" stroke="#1d1d1d" stroke-width="0.35">AlkB</text>
<text x="1512.6" y="1519.6" text-anchor="middle" stroke="#1d1d1d" stroke-width="0.35">temp (ºC)</text>
<text x="1513.6" y="1557.9" text-anchor="middle" stroke="#1d1d1d" stroke-width="0.35">(NH₄)₂Fe(SO₄)₂</text>
<text x="1513.2" y="1585.1" text-anchor="middle" stroke="#1d1d1d" stroke-width="0.35">μM</text>
<text x="1646.9" y="1437.3" text-anchor="middle" stroke="#1d1d1d" stroke-width="0.35">+</text>
<text x="1646.9" y="1478" text-anchor="middle" stroke="#1d1d1d" stroke-width="0.35">+</text>
<text x="1646.9" y="1519.6" text-anchor="middle" stroke="#1d1d1d" stroke-width="0.35">37</text>
<text x="1646.9" y="1572.3" text-anchor="middle" stroke="#1d1d1d" stroke-width="0.35">283</text>
<text x="1730" y="1437.3" text-anchor="middle" stroke="#1d1d1d" stroke-width="0.35">+</text>
<text x="1730" y="1478" text-anchor="middle" stroke="#1d1d1d" stroke-width="0.35">+</text>
<text x="1730" y="1519.6" text-anchor="middle" stroke="#1d1d1d" stroke-width="0.35">25</text>
<text x="1730" y="1572.3" text-anchor="middle" stroke="#1d1d1d" stroke-width="0.35">283</text>
<text x="1813.4" y="1437.3" text-anchor="middle" stroke="#1d1d1d" stroke-width="0.35">+</text>
<text x="1813.4" y="1478" text-anchor="middle" stroke="#1d1d1d" stroke-width="0.35">+</text>
<text x="1813.4" y="1519.6" text-anchor="middle" stroke="#1d1d1d" stroke-width="0.35">37</text>
<text x="1813.4" y="1572.3" text-anchor="middle" stroke="#1d1d1d" stroke-width="0.35">75</text>
<text x="1893.4" y="1437.3" text-anchor="middle" stroke="#1d1d1d" stroke-width="0.35">+</text>
<text x="1893.4" y="1478" text-anchor="middle" stroke="#1d1d1d" stroke-width="0.35">+</text>
<text x="1893.4" y="1519.6" text-anchor="middle" stroke="#1d1d1d" stroke-width="0.35">25</text>
<text x="1893.4" y="1572.3" text-anchor="middle" stroke="#1d1d1d" stroke-width="0.35">75</text>
<text x="1976.5" y="1437.3" text-anchor="middle" stroke="#1d1d1d" stroke-width="0.35">-</text>
<text x="1976.5" y="1478" text-anchor="middle" stroke="#1d1d1d" stroke-width="0.35">+</text>
<text x="1976.5" y="1519.6" text-anchor="middle" stroke="#1d1d1d" stroke-width="0.35">37</text>
<text x="1976.5" y="1572.3" text-anchor="middle" stroke="#1d1d1d" stroke-width="0.35">283</text>
<text x="2059.9" y="1437.3" text-anchor="middle" stroke="#1d1d1d" stroke-width="0.35">+</text>
<text x="2059.9" y="1478" text-anchor="middle" stroke="#1d1d1d" stroke-width="0.35">-</text>
<text x="2059.9" y="1519.6" text-anchor="middle" stroke="#1d1d1d" stroke-width="0.35">37</text>
<text x="2059.9" y="1572.3" text-anchor="middle" stroke="#1d1d1d" stroke-width="0.35">283</text>
</g>
</svg>
</body></html>
